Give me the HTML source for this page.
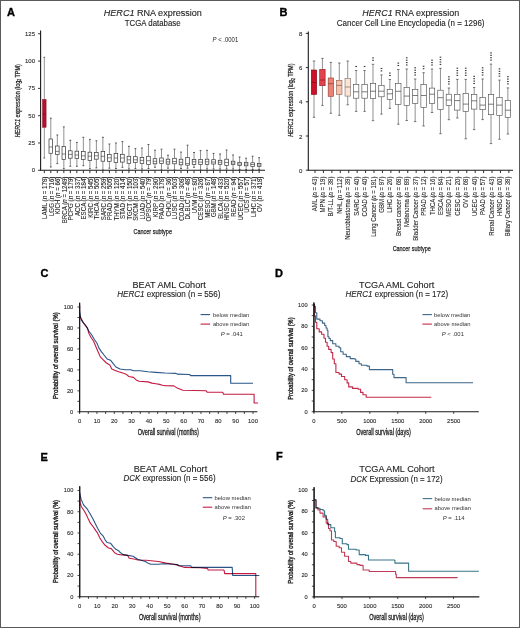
<!DOCTYPE html>
<html><head><meta charset="utf-8"><style>
html,body{margin:0;padding:0;background:#fff;}
svg{display:block;font-family:"Liberation Sans", sans-serif;will-change:transform;}
</style></head><body>
<svg width="520" height="628" viewBox="0 0 520 628">
<rect x="0" y="0" width="520" height="628" fill="#fff"/>
<text x="7.00" y="16.00" font-size="11" font-weight="bold" fill="#000" stroke="#000" stroke-width="0.35">A</text>
<text x="152.85" y="16.00" font-size="9.6" text-anchor="middle" textLength="98.10" lengthAdjust="spacingAndGlyphs" fill="#1e1e1e" stroke="#1e1e1e" stroke-width="0.12"><tspan font-style="italic">HERC1</tspan> RNA expression</text>
<text x="152.70" y="26.30" font-size="8.2" text-anchor="middle" textLength="55.80" lengthAdjust="spacingAndGlyphs" fill="#1e1e1e" stroke="#1e1e1e" stroke-width="0.12">TCGA database</text>
<text x="212.6" y="42.4" font-size="6.4" textLength="25.6" lengthAdjust="spacingAndGlyphs" fill="#222"><tspan font-style="italic">P</tspan> &lt; .0001</text>
<line x1="40.60" y1="30.50" x2="40.60" y2="170.80" stroke="#1a1a1a" stroke-width="1.1"/>
<line x1="38.10" y1="170.30" x2="40.60" y2="170.30" stroke="#1a1a1a" stroke-width="0.9"/>
<text x="35.00" y="172.35" font-size="5.4" text-anchor="end" textLength="3.34" lengthAdjust="spacingAndGlyphs" fill="#2a2a2a" stroke="#2a2a2a" stroke-width="0.1">0</text>
<line x1="38.10" y1="143.00" x2="40.60" y2="143.00" stroke="#1a1a1a" stroke-width="0.9"/>
<text x="35.00" y="145.05" font-size="5.4" text-anchor="end" textLength="6.67" lengthAdjust="spacingAndGlyphs" fill="#2a2a2a" stroke="#2a2a2a" stroke-width="0.1">25</text>
<line x1="38.10" y1="115.70" x2="40.60" y2="115.70" stroke="#1a1a1a" stroke-width="0.9"/>
<text x="35.00" y="117.75" font-size="5.4" text-anchor="end" textLength="6.67" lengthAdjust="spacingAndGlyphs" fill="#2a2a2a" stroke="#2a2a2a" stroke-width="0.1">50</text>
<line x1="38.10" y1="88.40" x2="40.60" y2="88.40" stroke="#1a1a1a" stroke-width="0.9"/>
<text x="35.00" y="90.45" font-size="5.4" text-anchor="end" textLength="6.67" lengthAdjust="spacingAndGlyphs" fill="#2a2a2a" stroke="#2a2a2a" stroke-width="0.1">75</text>
<line x1="38.10" y1="61.10" x2="40.60" y2="61.10" stroke="#1a1a1a" stroke-width="0.9"/>
<text x="35.00" y="63.15" font-size="5.4" text-anchor="end" textLength="10.01" lengthAdjust="spacingAndGlyphs" fill="#2a2a2a" stroke="#2a2a2a" stroke-width="0.1">100</text>
<line x1="38.10" y1="33.80" x2="40.60" y2="33.80" stroke="#1a1a1a" stroke-width="0.9"/>
<text x="35.00" y="35.85" font-size="5.4" text-anchor="end" textLength="10.01" lengthAdjust="spacingAndGlyphs" fill="#2a2a2a" stroke="#2a2a2a" stroke-width="0.1">125</text>
<line x1="40.60" y1="170.30" x2="265.00" y2="170.30" stroke="#1a1a1a" stroke-width="1.1"/>
<text x="0" y="0" font-size="8" text-anchor="middle" textLength="73" lengthAdjust="spacingAndGlyphs" transform="translate(19.8 100.8) rotate(-90)" fill="#222" stroke="#222" stroke-width="0.25"><tspan font-style="italic">HERC1</tspan> expression (log<tspan font-size="5" dy="1.5">2</tspan><tspan dy="-1.5"> TPM)</tspan></text>
<text x="152.70" y="233.50" font-size="8" text-anchor="middle" textLength="38.50" lengthAdjust="spacingAndGlyphs" fill="#222" stroke="#222" stroke-width="0.25">Cancer subtype</text>
<line x1="44.30" y1="170.30" x2="44.30" y2="173.10" stroke="#1a1a1a" stroke-width="0.9"/>
<line x1="44.30" y1="57.30" x2="44.30" y2="99.40" stroke="#777" stroke-width="0.8"/>
<line x1="44.30" y1="127.30" x2="44.30" y2="158.00" stroke="#777" stroke-width="0.8"/>
<line x1="43.40" y1="57.30" x2="45.20" y2="57.30" stroke="#444" stroke-width="0.8"/>
<line x1="43.40" y1="158.00" x2="45.20" y2="158.00" stroke="#444" stroke-width="0.8"/>
<rect x="42.50" y="99.4" width="3.6" height="27.90" fill="#b3122f" stroke="#8a0c22" stroke-width="0.5"/>
<line x1="42.50" y1="114.00" x2="46.10" y2="114.00" stroke="#7a0a1e" stroke-width="0.5"/>
<text x="0" y="0" font-size="6.3" text-anchor="end" transform="translate(47.20 176.60) rotate(-90) scale(0.976 1)" fill="#1e1e1e" stroke="#1e1e1e" stroke-width="0.08">LAML (<tspan font-style="italic">n</tspan> = 178)</text>
<line x1="50.81" y1="170.30" x2="50.81" y2="173.10" stroke="#1a1a1a" stroke-width="0.9"/>
<line x1="50.81" y1="118.20" x2="50.81" y2="139.00" stroke="#8a8a8a" stroke-width="0.95"/>
<line x1="50.81" y1="153.30" x2="50.81" y2="167.00" stroke="#8a8a8a" stroke-width="0.95"/>
<line x1="49.91" y1="118.20" x2="51.71" y2="118.20" stroke="#444" stroke-width="0.9"/>
<line x1="49.91" y1="167.00" x2="51.71" y2="167.00" stroke="#444" stroke-width="0.9"/>
<rect x="49.01" y="139" width="3.6" height="14.30" fill="#fff" stroke="#333" stroke-width="0.7"/>
<line x1="49.01" y1="147.00" x2="52.61" y2="147.00" stroke="#333" stroke-width="0.6"/>
<text x="0" y="0" font-size="6.3" text-anchor="end" transform="translate(53.71 176.60) rotate(-90) scale(0.976 1)" fill="#1e1e1e" stroke="#1e1e1e" stroke-width="0.08">LGG (<tspan font-style="italic">n</tspan> = 716)</text>
<line x1="57.32" y1="170.30" x2="57.32" y2="173.10" stroke="#1a1a1a" stroke-width="0.9"/>
<line x1="57.32" y1="135.00" x2="57.32" y2="146.00" stroke="#8a8a8a" stroke-width="0.95"/>
<line x1="57.32" y1="154.60" x2="57.32" y2="163.60" stroke="#8a8a8a" stroke-width="0.95"/>
<line x1="56.42" y1="135.00" x2="58.22" y2="135.00" stroke="#444" stroke-width="0.9"/>
<line x1="56.42" y1="163.60" x2="58.22" y2="163.60" stroke="#444" stroke-width="0.9"/>
<rect x="55.52" y="146" width="3.6" height="8.60" fill="#fff" stroke="#333" stroke-width="0.7"/>
<line x1="55.52" y1="151.40" x2="59.12" y2="151.40" stroke="#333" stroke-width="0.6"/>
<text x="0" y="0" font-size="6.3" text-anchor="end" transform="translate(60.22 176.60) rotate(-90) scale(0.976 1)" fill="#1e1e1e" stroke="#1e1e1e" stroke-width="0.08">KICH (<tspan font-style="italic">n</tspan> = 66)</text>
<line x1="63.83" y1="170.30" x2="63.83" y2="173.10" stroke="#1a1a1a" stroke-width="0.9"/>
<line x1="63.83" y1="126.90" x2="63.83" y2="146.60" stroke="#8a8a8a" stroke-width="0.95"/>
<line x1="63.83" y1="159.40" x2="63.83" y2="168.70" stroke="#8a8a8a" stroke-width="0.95"/>
<line x1="62.93" y1="126.90" x2="64.73" y2="126.90" stroke="#444" stroke-width="0.9"/>
<line x1="62.93" y1="168.70" x2="64.73" y2="168.70" stroke="#444" stroke-width="0.9"/>
<rect x="62.03" y="146.6" width="3.6" height="12.80" fill="#fff" stroke="#333" stroke-width="0.7"/>
<line x1="62.03" y1="154.00" x2="65.63" y2="154.00" stroke="#333" stroke-width="0.6"/>
<text x="0" y="0" font-size="6.3" text-anchor="end" transform="translate(66.73 176.60) rotate(-90) scale(0.976 1)" fill="#1e1e1e" stroke="#1e1e1e" stroke-width="0.08">BRCA (<tspan font-style="italic">n</tspan> = 1249)</text>
<line x1="70.34" y1="170.30" x2="70.34" y2="173.10" stroke="#1a1a1a" stroke-width="0.9"/>
<line x1="70.34" y1="140.30" x2="70.34" y2="150.80" stroke="#8a8a8a" stroke-width="0.95"/>
<line x1="70.34" y1="158.20" x2="70.34" y2="166.30" stroke="#8a8a8a" stroke-width="0.95"/>
<line x1="69.44" y1="140.30" x2="71.24" y2="140.30" stroke="#444" stroke-width="0.9"/>
<line x1="69.44" y1="166.30" x2="71.24" y2="166.30" stroke="#444" stroke-width="0.9"/>
<rect x="68.54" y="150.8" width="3.6" height="7.40" fill="#fff" stroke="#333" stroke-width="0.7"/>
<line x1="68.54" y1="154.40" x2="72.14" y2="154.40" stroke="#333" stroke-width="0.6"/>
<text x="0" y="0" font-size="6.3" text-anchor="end" transform="translate(73.24 176.60) rotate(-90) scale(0.976 1)" fill="#1e1e1e" stroke="#1e1e1e" stroke-width="0.08">PCPG (<tspan font-style="italic">n</tspan> = 179)</text>
<line x1="76.85" y1="170.30" x2="76.85" y2="173.10" stroke="#1a1a1a" stroke-width="0.9"/>
<line x1="76.85" y1="142.40" x2="76.85" y2="151.20" stroke="#8a8a8a" stroke-width="0.95"/>
<line x1="76.85" y1="158.60" x2="76.85" y2="166.30" stroke="#8a8a8a" stroke-width="0.95"/>
<line x1="75.95" y1="142.40" x2="77.75" y2="142.40" stroke="#444" stroke-width="0.9"/>
<line x1="75.95" y1="166.30" x2="77.75" y2="166.30" stroke="#444" stroke-width="0.9"/>
<rect x="75.05" y="151.2" width="3.6" height="7.40" fill="#fff" stroke="#333" stroke-width="0.7"/>
<line x1="75.05" y1="155.00" x2="78.65" y2="155.00" stroke="#333" stroke-width="0.6"/>
<text x="0" y="0" font-size="6.3" text-anchor="end" transform="translate(79.75 176.60) rotate(-90) scale(0.976 1)" fill="#1e1e1e" stroke="#1e1e1e" stroke-width="0.08">ACC (<tspan font-style="italic">n</tspan> = 337)</text>
<line x1="83.36" y1="170.30" x2="83.36" y2="173.10" stroke="#1a1a1a" stroke-width="0.9"/>
<line x1="83.36" y1="137.30" x2="83.36" y2="151.40" stroke="#8a8a8a" stroke-width="0.95"/>
<line x1="83.36" y1="159.40" x2="83.36" y2="165.70" stroke="#8a8a8a" stroke-width="0.95"/>
<line x1="82.46" y1="137.30" x2="84.26" y2="137.30" stroke="#444" stroke-width="0.9"/>
<line x1="82.46" y1="165.70" x2="84.26" y2="165.70" stroke="#444" stroke-width="0.9"/>
<rect x="81.56" y="151.4" width="3.6" height="8.00" fill="#fff" stroke="#333" stroke-width="0.7"/>
<line x1="81.56" y1="155.80" x2="85.16" y2="155.80" stroke="#333" stroke-width="0.6"/>
<text x="0" y="0" font-size="6.3" text-anchor="end" transform="translate(86.26 176.60) rotate(-90) scale(0.976 1)" fill="#1e1e1e" stroke="#1e1e1e" stroke-width="0.08">ESCA (<tspan font-style="italic">n</tspan> = 184)</text>
<line x1="89.87" y1="170.30" x2="89.87" y2="173.10" stroke="#1a1a1a" stroke-width="0.9"/>
<line x1="89.87" y1="139.40" x2="89.87" y2="152.20" stroke="#8a8a8a" stroke-width="0.95"/>
<line x1="89.87" y1="160.40" x2="89.87" y2="168.70" stroke="#8a8a8a" stroke-width="0.95"/>
<line x1="88.97" y1="139.40" x2="90.77" y2="139.40" stroke="#444" stroke-width="0.9"/>
<line x1="88.97" y1="168.70" x2="90.77" y2="168.70" stroke="#444" stroke-width="0.9"/>
<rect x="88.07" y="152.2" width="3.6" height="8.20" fill="#fff" stroke="#333" stroke-width="0.7"/>
<line x1="88.07" y1="156.20" x2="91.67" y2="156.20" stroke="#333" stroke-width="0.6"/>
<text x="0" y="0" font-size="6.3" text-anchor="end" transform="translate(92.77 176.60) rotate(-90) scale(0.976 1)" fill="#1e1e1e" stroke="#1e1e1e" stroke-width="0.08">KIRC (<tspan font-style="italic">n</tspan> = 545)</text>
<line x1="96.38" y1="170.30" x2="96.38" y2="173.10" stroke="#1a1a1a" stroke-width="0.9"/>
<line x1="96.38" y1="140.80" x2="96.38" y2="152.50" stroke="#8a8a8a" stroke-width="0.95"/>
<line x1="96.38" y1="159.20" x2="96.38" y2="167.90" stroke="#8a8a8a" stroke-width="0.95"/>
<line x1="95.48" y1="140.80" x2="97.28" y2="140.80" stroke="#444" stroke-width="0.9"/>
<line x1="95.48" y1="167.90" x2="97.28" y2="167.90" stroke="#444" stroke-width="0.9"/>
<rect x="94.58" y="152.5" width="3.6" height="6.70" fill="#fff" stroke="#333" stroke-width="0.7"/>
<line x1="94.58" y1="155.80" x2="98.18" y2="155.80" stroke="#333" stroke-width="0.6"/>
<text x="0" y="0" font-size="6.3" text-anchor="end" transform="translate(99.28 176.60) rotate(-90) scale(0.976 1)" fill="#1e1e1e" stroke="#1e1e1e" stroke-width="0.08">THCA (<tspan font-style="italic">n</tspan> = 505)</text>
<line x1="102.89" y1="170.30" x2="102.89" y2="173.10" stroke="#1a1a1a" stroke-width="0.9"/>
<line x1="102.89" y1="137.30" x2="102.89" y2="151.40" stroke="#8a8a8a" stroke-width="0.95"/>
<line x1="102.89" y1="161.20" x2="102.89" y2="170.00" stroke="#8a8a8a" stroke-width="0.95"/>
<line x1="101.99" y1="137.30" x2="103.79" y2="137.30" stroke="#444" stroke-width="0.9"/>
<line x1="101.99" y1="170.00" x2="103.79" y2="170.00" stroke="#444" stroke-width="0.9"/>
<rect x="101.09" y="151.4" width="3.6" height="9.80" fill="#fff" stroke="#333" stroke-width="0.7"/>
<line x1="101.09" y1="156.30" x2="104.69" y2="156.30" stroke="#333" stroke-width="0.6"/>
<text x="0" y="0" font-size="6.3" text-anchor="end" transform="translate(105.79 176.60) rotate(-90) scale(0.976 1)" fill="#1e1e1e" stroke="#1e1e1e" stroke-width="0.08">SARC (<tspan font-style="italic">n</tspan> = 259)</text>
<line x1="109.40" y1="170.30" x2="109.40" y2="173.10" stroke="#1a1a1a" stroke-width="0.9"/>
<line x1="109.40" y1="144.00" x2="109.40" y2="154.40" stroke="#8a8a8a" stroke-width="0.95"/>
<line x1="109.40" y1="161.30" x2="109.40" y2="168.20" stroke="#8a8a8a" stroke-width="0.95"/>
<line x1="108.50" y1="144.00" x2="110.30" y2="144.00" stroke="#444" stroke-width="0.9"/>
<line x1="108.50" y1="168.20" x2="110.30" y2="168.20" stroke="#444" stroke-width="0.9"/>
<rect x="107.60" y="154.4" width="3.6" height="6.90" fill="#fff" stroke="#333" stroke-width="0.7"/>
<line x1="107.60" y1="157.80" x2="111.20" y2="157.80" stroke="#333" stroke-width="0.6"/>
<text x="0" y="0" font-size="6.3" text-anchor="end" transform="translate(112.30 176.60) rotate(-90) scale(0.976 1)" fill="#1e1e1e" stroke="#1e1e1e" stroke-width="0.08">PRAD (<tspan font-style="italic">n</tspan> = 505)</text>
<line x1="115.91" y1="170.30" x2="115.91" y2="173.10" stroke="#1a1a1a" stroke-width="0.9"/>
<line x1="115.91" y1="143.00" x2="115.91" y2="153.50" stroke="#8a8a8a" stroke-width="0.95"/>
<line x1="115.91" y1="162.50" x2="115.91" y2="168.50" stroke="#8a8a8a" stroke-width="0.95"/>
<line x1="115.01" y1="143.00" x2="116.81" y2="143.00" stroke="#444" stroke-width="0.9"/>
<line x1="115.01" y1="168.50" x2="116.81" y2="168.50" stroke="#444" stroke-width="0.9"/>
<rect x="114.11" y="153.5" width="3.6" height="9.00" fill="#fff" stroke="#333" stroke-width="0.7"/>
<line x1="114.11" y1="158.00" x2="117.71" y2="158.00" stroke="#333" stroke-width="0.6"/>
<text x="0" y="0" font-size="6.3" text-anchor="end" transform="translate(118.81 176.60) rotate(-90) scale(0.976 1)" fill="#1e1e1e" stroke="#1e1e1e" stroke-width="0.08">THYM (<tspan font-style="italic">n</tspan> = 120)</text>
<line x1="122.42" y1="170.30" x2="122.42" y2="173.10" stroke="#1a1a1a" stroke-width="0.9"/>
<line x1="122.42" y1="141.60" x2="122.42" y2="154.30" stroke="#8a8a8a" stroke-width="0.95"/>
<line x1="122.42" y1="162.10" x2="122.42" y2="167.30" stroke="#8a8a8a" stroke-width="0.95"/>
<line x1="121.52" y1="141.60" x2="123.32" y2="141.60" stroke="#444" stroke-width="0.9"/>
<line x1="121.52" y1="167.30" x2="123.32" y2="167.30" stroke="#444" stroke-width="0.9"/>
<rect x="120.62" y="154.3" width="3.6" height="7.80" fill="#fff" stroke="#333" stroke-width="0.7"/>
<line x1="120.62" y1="158.00" x2="124.22" y2="158.00" stroke="#333" stroke-width="0.6"/>
<text x="0" y="0" font-size="6.3" text-anchor="end" transform="translate(125.32 176.60) rotate(-90) scale(0.976 1)" fill="#1e1e1e" stroke="#1e1e1e" stroke-width="0.08">STAD (<tspan font-style="italic">n</tspan> = 414)</text>
<line x1="128.93" y1="170.30" x2="128.93" y2="173.10" stroke="#1a1a1a" stroke-width="0.9"/>
<line x1="128.93" y1="146.30" x2="128.93" y2="156.30" stroke="#8a8a8a" stroke-width="0.95"/>
<line x1="128.93" y1="163.30" x2="128.93" y2="169.00" stroke="#8a8a8a" stroke-width="0.95"/>
<line x1="128.03" y1="146.30" x2="129.83" y2="146.30" stroke="#444" stroke-width="0.9"/>
<line x1="128.03" y1="169.00" x2="129.83" y2="169.00" stroke="#444" stroke-width="0.9"/>
<rect x="127.13" y="156.3" width="3.6" height="7.00" fill="#fff" stroke="#333" stroke-width="0.7"/>
<line x1="127.13" y1="159.80" x2="130.73" y2="159.80" stroke="#333" stroke-width="0.6"/>
<text x="0" y="0" font-size="6.3" text-anchor="end" transform="translate(131.83 176.60) rotate(-90) scale(0.976 1)" fill="#1e1e1e" stroke="#1e1e1e" stroke-width="0.08">TGCT (<tspan font-style="italic">n</tspan> = 150)</text>
<line x1="135.44" y1="170.30" x2="135.44" y2="173.10" stroke="#1a1a1a" stroke-width="0.9"/>
<line x1="135.44" y1="148.60" x2="135.44" y2="156.70" stroke="#8a8a8a" stroke-width="0.95"/>
<line x1="135.44" y1="162.50" x2="135.44" y2="168.50" stroke="#8a8a8a" stroke-width="0.95"/>
<line x1="134.54" y1="148.60" x2="136.34" y2="148.60" stroke="#444" stroke-width="0.9"/>
<line x1="134.54" y1="168.50" x2="136.34" y2="168.50" stroke="#444" stroke-width="0.9"/>
<rect x="133.64" y="156.7" width="3.6" height="5.80" fill="#fff" stroke="#333" stroke-width="0.7"/>
<line x1="133.64" y1="159.80" x2="137.24" y2="159.80" stroke="#333" stroke-width="0.6"/>
<text x="0" y="0" font-size="6.3" text-anchor="end" transform="translate(138.34 176.60) rotate(-90) scale(0.976 1)" fill="#1e1e1e" stroke="#1e1e1e" stroke-width="0.08">SKCM (<tspan font-style="italic">n</tspan> = 103)</text>
<line x1="141.95" y1="170.30" x2="141.95" y2="173.10" stroke="#1a1a1a" stroke-width="0.9"/>
<line x1="141.95" y1="148.00" x2="141.95" y2="157.50" stroke="#8a8a8a" stroke-width="0.95"/>
<line x1="141.95" y1="163.60" x2="141.95" y2="169.00" stroke="#8a8a8a" stroke-width="0.95"/>
<line x1="141.05" y1="148.00" x2="142.85" y2="148.00" stroke="#444" stroke-width="0.9"/>
<line x1="141.05" y1="169.00" x2="142.85" y2="169.00" stroke="#444" stroke-width="0.9"/>
<rect x="140.15" y="157.5" width="3.6" height="6.10" fill="#fff" stroke="#333" stroke-width="0.7"/>
<line x1="140.15" y1="160.40" x2="143.75" y2="160.40" stroke="#333" stroke-width="0.6"/>
<text x="0" y="0" font-size="6.3" text-anchor="end" transform="translate(144.85 176.60) rotate(-90) scale(0.976 1)" fill="#1e1e1e" stroke="#1e1e1e" stroke-width="0.08">LUAD (<tspan font-style="italic">n</tspan> = 540)</text>
<line x1="148.46" y1="170.30" x2="148.46" y2="173.10" stroke="#1a1a1a" stroke-width="0.9"/>
<line x1="148.46" y1="144.50" x2="148.46" y2="156.30" stroke="#8a8a8a" stroke-width="0.95"/>
<line x1="148.46" y1="164.40" x2="148.46" y2="168.50" stroke="#8a8a8a" stroke-width="0.95"/>
<line x1="147.56" y1="144.50" x2="149.36" y2="144.50" stroke="#444" stroke-width="0.9"/>
<line x1="147.56" y1="168.50" x2="149.36" y2="168.50" stroke="#444" stroke-width="0.9"/>
<rect x="146.66" y="156.3" width="3.6" height="8.10" fill="#fff" stroke="#333" stroke-width="0.7"/>
<line x1="146.66" y1="160.70" x2="150.26" y2="160.70" stroke="#333" stroke-width="0.6"/>
<text x="0" y="0" font-size="6.3" text-anchor="end" transform="translate(151.36 176.60) rotate(-90) scale(0.976 1)" fill="#1e1e1e" stroke="#1e1e1e" stroke-width="0.08">OPSCC (<tspan font-style="italic">n</tspan> = 79)</text>
<line x1="154.97" y1="170.30" x2="154.97" y2="173.10" stroke="#1a1a1a" stroke-width="0.9"/>
<line x1="154.97" y1="150.20" x2="154.97" y2="158.70" stroke="#8a8a8a" stroke-width="0.95"/>
<line x1="154.97" y1="163.80" x2="154.97" y2="167.30" stroke="#8a8a8a" stroke-width="0.95"/>
<line x1="154.07" y1="150.20" x2="155.87" y2="150.20" stroke="#444" stroke-width="0.9"/>
<line x1="154.07" y1="167.30" x2="155.87" y2="167.30" stroke="#444" stroke-width="0.9"/>
<rect x="153.17" y="158.7" width="3.6" height="5.10" fill="#fff" stroke="#333" stroke-width="0.7"/>
<line x1="153.17" y1="161.30" x2="156.77" y2="161.30" stroke="#333" stroke-width="0.6"/>
<text x="0" y="0" font-size="6.3" text-anchor="end" transform="translate(157.87 176.60) rotate(-90) scale(0.976 1)" fill="#1e1e1e" stroke="#1e1e1e" stroke-width="0.08">KIRP (<tspan font-style="italic">n</tspan> = 290)</text>
<line x1="161.48" y1="170.30" x2="161.48" y2="173.10" stroke="#1a1a1a" stroke-width="0.9"/>
<line x1="161.48" y1="149.20" x2="161.48" y2="158.00" stroke="#8a8a8a" stroke-width="0.95"/>
<line x1="161.48" y1="163.60" x2="161.48" y2="170.00" stroke="#8a8a8a" stroke-width="0.95"/>
<line x1="160.58" y1="149.20" x2="162.38" y2="149.20" stroke="#444" stroke-width="0.9"/>
<line x1="160.58" y1="170.00" x2="162.38" y2="170.00" stroke="#444" stroke-width="0.9"/>
<rect x="159.68" y="158" width="3.6" height="5.60" fill="#fff" stroke="#333" stroke-width="0.7"/>
<line x1="159.68" y1="161.00" x2="163.28" y2="161.00" stroke="#333" stroke-width="0.6"/>
<text x="0" y="0" font-size="6.3" text-anchor="end" transform="translate(164.38 176.60) rotate(-90) scale(0.976 1)" fill="#1e1e1e" stroke="#1e1e1e" stroke-width="0.08">PAAD (<tspan font-style="italic">n</tspan> = 178)</text>
<line x1="167.99" y1="170.30" x2="167.99" y2="173.10" stroke="#1a1a1a" stroke-width="0.9"/>
<line x1="167.99" y1="155.20" x2="167.99" y2="159.20" stroke="#8a8a8a" stroke-width="0.95"/>
<line x1="167.99" y1="164.10" x2="167.99" y2="168.20" stroke="#8a8a8a" stroke-width="0.95"/>
<line x1="167.09" y1="155.20" x2="168.89" y2="155.20" stroke="#444" stroke-width="0.9"/>
<line x1="167.09" y1="168.20" x2="168.89" y2="168.20" stroke="#444" stroke-width="0.9"/>
<rect x="166.19" y="159.2" width="3.6" height="4.90" fill="#fff" stroke="#333" stroke-width="0.7"/>
<line x1="166.19" y1="161.80" x2="169.79" y2="161.80" stroke="#333" stroke-width="0.6"/>
<text x="0" y="0" font-size="6.3" text-anchor="end" transform="translate(170.89 176.60) rotate(-90) scale(0.976 1)" fill="#1e1e1e" stroke="#1e1e1e" stroke-width="0.08">CHOL (<tspan font-style="italic">n</tspan> = 36)</text>
<line x1="174.50" y1="170.30" x2="174.50" y2="173.10" stroke="#1a1a1a" stroke-width="0.9"/>
<line x1="174.50" y1="149.20" x2="174.50" y2="158.30" stroke="#8a8a8a" stroke-width="0.95"/>
<line x1="174.50" y1="163.80" x2="174.50" y2="170.00" stroke="#8a8a8a" stroke-width="0.95"/>
<line x1="173.60" y1="149.20" x2="175.40" y2="149.20" stroke="#444" stroke-width="0.9"/>
<line x1="173.60" y1="170.00" x2="175.40" y2="170.00" stroke="#444" stroke-width="0.9"/>
<rect x="172.70" y="158.3" width="3.6" height="5.50" fill="#fff" stroke="#333" stroke-width="0.7"/>
<line x1="172.70" y1="161.50" x2="176.30" y2="161.50" stroke="#333" stroke-width="0.6"/>
<text x="0" y="0" font-size="6.3" text-anchor="end" transform="translate(177.40 176.60) rotate(-90) scale(0.976 1)" fill="#1e1e1e" stroke="#1e1e1e" stroke-width="0.08">LUSC (<tspan font-style="italic">n</tspan> = 503)</text>
<line x1="181.01" y1="170.30" x2="181.01" y2="173.10" stroke="#1a1a1a" stroke-width="0.9"/>
<line x1="181.01" y1="152.10" x2="181.01" y2="159.20" stroke="#8a8a8a" stroke-width="0.95"/>
<line x1="181.01" y1="164.80" x2="181.01" y2="168.50" stroke="#8a8a8a" stroke-width="0.95"/>
<line x1="180.11" y1="152.10" x2="181.91" y2="152.10" stroke="#444" stroke-width="0.9"/>
<line x1="180.11" y1="168.50" x2="181.91" y2="168.50" stroke="#444" stroke-width="0.9"/>
<rect x="179.21" y="159.2" width="3.6" height="5.60" fill="#fff" stroke="#333" stroke-width="0.7"/>
<line x1="179.21" y1="162.30" x2="182.81" y2="162.30" stroke="#333" stroke-width="0.6"/>
<text x="0" y="0" font-size="6.3" text-anchor="end" transform="translate(183.91 176.60) rotate(-90) scale(0.976 1)" fill="#1e1e1e" stroke="#1e1e1e" stroke-width="0.08">COAD (<tspan font-style="italic">n</tspan> = 308)</text>
<line x1="187.52" y1="170.30" x2="187.52" y2="173.10" stroke="#1a1a1a" stroke-width="0.9"/>
<line x1="187.52" y1="145.20" x2="187.52" y2="157.50" stroke="#8a8a8a" stroke-width="0.95"/>
<line x1="187.52" y1="165.20" x2="187.52" y2="168.20" stroke="#8a8a8a" stroke-width="0.95"/>
<line x1="186.62" y1="145.20" x2="188.42" y2="145.20" stroke="#444" stroke-width="0.9"/>
<line x1="186.62" y1="168.20" x2="188.42" y2="168.20" stroke="#444" stroke-width="0.9"/>
<rect x="185.72" y="157.5" width="3.6" height="7.70" fill="#fff" stroke="#333" stroke-width="0.7"/>
<line x1="185.72" y1="163.60" x2="189.32" y2="163.60" stroke="#333" stroke-width="0.6"/>
<text x="0" y="0" font-size="6.3" text-anchor="end" transform="translate(190.42 176.60) rotate(-90) scale(0.976 1)" fill="#1e1e1e" stroke="#1e1e1e" stroke-width="0.08">DLBLC (<tspan font-style="italic">n</tspan> = 48)</text>
<line x1="194.03" y1="170.30" x2="194.03" y2="173.10" stroke="#1a1a1a" stroke-width="0.9"/>
<line x1="194.03" y1="152.50" x2="194.03" y2="159.50" stroke="#8a8a8a" stroke-width="0.95"/>
<line x1="194.03" y1="164.40" x2="194.03" y2="167.30" stroke="#8a8a8a" stroke-width="0.95"/>
<line x1="193.13" y1="152.50" x2="194.93" y2="152.50" stroke="#444" stroke-width="0.9"/>
<line x1="193.13" y1="167.30" x2="194.93" y2="167.30" stroke="#444" stroke-width="0.9"/>
<rect x="192.23" y="159.5" width="3.6" height="4.90" fill="#fff" stroke="#333" stroke-width="0.7"/>
<line x1="192.23" y1="161.80" x2="195.83" y2="161.80" stroke="#333" stroke-width="0.6"/>
<text x="0" y="0" font-size="6.3" text-anchor="end" transform="translate(196.93 176.60) rotate(-90) scale(0.976 1)" fill="#1e1e1e" stroke="#1e1e1e" stroke-width="0.08">UVM (<tspan font-style="italic">n</tspan> = 80)</text>
<line x1="200.54" y1="170.30" x2="200.54" y2="173.10" stroke="#1a1a1a" stroke-width="0.9"/>
<line x1="200.54" y1="150.60" x2="200.54" y2="159.50" stroke="#8a8a8a" stroke-width="0.95"/>
<line x1="200.54" y1="164.40" x2="200.54" y2="170.00" stroke="#8a8a8a" stroke-width="0.95"/>
<line x1="199.64" y1="150.60" x2="201.44" y2="150.60" stroke="#444" stroke-width="0.9"/>
<line x1="199.64" y1="170.00" x2="201.44" y2="170.00" stroke="#444" stroke-width="0.9"/>
<rect x="198.74" y="159.5" width="3.6" height="4.90" fill="#fff" stroke="#333" stroke-width="0.7"/>
<line x1="198.74" y1="162.10" x2="202.34" y2="162.10" stroke="#333" stroke-width="0.6"/>
<text x="0" y="0" font-size="6.3" text-anchor="end" transform="translate(203.44 176.60) rotate(-90) scale(0.976 1)" fill="#1e1e1e" stroke="#1e1e1e" stroke-width="0.08">CESC (<tspan font-style="italic">n</tspan> = 326)</text>
<line x1="207.05" y1="170.30" x2="207.05" y2="173.10" stroke="#1a1a1a" stroke-width="0.9"/>
<line x1="207.05" y1="150.30" x2="207.05" y2="159.20" stroke="#8a8a8a" stroke-width="0.95"/>
<line x1="207.05" y1="164.30" x2="207.05" y2="169.00" stroke="#8a8a8a" stroke-width="0.95"/>
<line x1="206.15" y1="150.30" x2="207.95" y2="150.30" stroke="#444" stroke-width="0.9"/>
<line x1="206.15" y1="169.00" x2="207.95" y2="169.00" stroke="#444" stroke-width="0.9"/>
<rect x="205.25" y="159.2" width="3.6" height="5.10" fill="#fff" stroke="#333" stroke-width="0.7"/>
<line x1="205.25" y1="161.80" x2="208.85" y2="161.80" stroke="#333" stroke-width="0.6"/>
<text x="0" y="0" font-size="6.3" text-anchor="end" transform="translate(209.95 176.60) rotate(-90) scale(0.976 1)" fill="#1e1e1e" stroke="#1e1e1e" stroke-width="0.08">MESO (<tspan font-style="italic">n</tspan> = 87)</text>
<line x1="213.56" y1="170.30" x2="213.56" y2="173.10" stroke="#1a1a1a" stroke-width="0.9"/>
<line x1="213.56" y1="153.40" x2="213.56" y2="159.70" stroke="#8a8a8a" stroke-width="0.95"/>
<line x1="213.56" y1="164.00" x2="213.56" y2="169.00" stroke="#8a8a8a" stroke-width="0.95"/>
<line x1="212.66" y1="153.40" x2="214.46" y2="153.40" stroke="#444" stroke-width="0.9"/>
<line x1="212.66" y1="169.00" x2="214.46" y2="169.00" stroke="#444" stroke-width="0.9"/>
<rect x="211.76" y="159.7" width="3.6" height="4.30" fill="#fff" stroke="#333" stroke-width="0.7"/>
<line x1="211.76" y1="162.00" x2="215.36" y2="162.00" stroke="#333" stroke-width="0.6"/>
<text x="0" y="0" font-size="6.3" text-anchor="end" transform="translate(216.46 176.60) rotate(-90) scale(0.976 1)" fill="#1e1e1e" stroke="#1e1e1e" stroke-width="0.08">GBM (<tspan font-style="italic">n</tspan> = 148)</text>
<line x1="220.07" y1="170.30" x2="220.07" y2="173.10" stroke="#1a1a1a" stroke-width="0.9"/>
<line x1="220.07" y1="154.00" x2="220.07" y2="160.30" stroke="#8a8a8a" stroke-width="0.95"/>
<line x1="220.07" y1="164.30" x2="220.07" y2="169.00" stroke="#8a8a8a" stroke-width="0.95"/>
<line x1="219.17" y1="154.00" x2="220.97" y2="154.00" stroke="#444" stroke-width="0.9"/>
<line x1="219.17" y1="169.00" x2="220.97" y2="169.00" stroke="#444" stroke-width="0.9"/>
<rect x="218.27" y="160.3" width="3.6" height="4.00" fill="#fff" stroke="#333" stroke-width="0.7"/>
<line x1="218.27" y1="162.30" x2="221.87" y2="162.30" stroke="#333" stroke-width="0.6"/>
<text x="0" y="0" font-size="6.3" text-anchor="end" transform="translate(222.97 176.60) rotate(-90) scale(0.976 1)" fill="#1e1e1e" stroke="#1e1e1e" stroke-width="0.08">BLCA (<tspan font-style="italic">n</tspan> = 433)</text>
<line x1="226.58" y1="170.30" x2="226.58" y2="173.10" stroke="#1a1a1a" stroke-width="0.9"/>
<line x1="226.58" y1="150.00" x2="226.58" y2="159.20" stroke="#8a8a8a" stroke-width="0.95"/>
<line x1="226.58" y1="165.40" x2="226.58" y2="169.00" stroke="#8a8a8a" stroke-width="0.95"/>
<line x1="225.68" y1="150.00" x2="227.48" y2="150.00" stroke="#444" stroke-width="0.9"/>
<line x1="225.68" y1="169.00" x2="227.48" y2="169.00" stroke="#444" stroke-width="0.9"/>
<rect x="224.78" y="159.2" width="3.6" height="6.20" fill="#fff" stroke="#333" stroke-width="0.7"/>
<line x1="224.78" y1="162.50" x2="228.38" y2="162.50" stroke="#333" stroke-width="0.6"/>
<text x="0" y="0" font-size="6.3" text-anchor="end" transform="translate(229.48 176.60) rotate(-90) scale(0.976 1)" fill="#1e1e1e" stroke="#1e1e1e" stroke-width="0.08">HNSC (<tspan font-style="italic">n</tspan> = 520)</text>
<line x1="233.09" y1="170.30" x2="233.09" y2="173.10" stroke="#1a1a1a" stroke-width="0.9"/>
<line x1="233.09" y1="155.00" x2="233.09" y2="161.20" stroke="#8a8a8a" stroke-width="0.95"/>
<line x1="233.09" y1="164.60" x2="233.09" y2="169.00" stroke="#8a8a8a" stroke-width="0.95"/>
<line x1="232.19" y1="155.00" x2="233.99" y2="155.00" stroke="#444" stroke-width="0.9"/>
<line x1="232.19" y1="169.00" x2="233.99" y2="169.00" stroke="#444" stroke-width="0.9"/>
<rect x="231.29" y="161.2" width="3.6" height="3.40" fill="#fff" stroke="#333" stroke-width="0.7"/>
<line x1="231.29" y1="163.00" x2="234.89" y2="163.00" stroke="#333" stroke-width="0.6"/>
<text x="0" y="0" font-size="6.3" text-anchor="end" transform="translate(235.99 176.60) rotate(-90) scale(0.976 1)" fill="#1e1e1e" stroke="#1e1e1e" stroke-width="0.08">READ (<tspan font-style="italic">n</tspan> = 94)</text>
<line x1="239.60" y1="170.30" x2="239.60" y2="173.10" stroke="#1a1a1a" stroke-width="0.9"/>
<line x1="239.60" y1="157.00" x2="239.60" y2="162.30" stroke="#8a8a8a" stroke-width="0.95"/>
<line x1="239.60" y1="165.40" x2="239.60" y2="169.50" stroke="#8a8a8a" stroke-width="0.95"/>
<line x1="238.70" y1="157.00" x2="240.50" y2="157.00" stroke="#444" stroke-width="0.9"/>
<line x1="238.70" y1="169.50" x2="240.50" y2="169.50" stroke="#444" stroke-width="0.9"/>
<rect x="237.80" y="162.3" width="3.6" height="3.10" fill="#fff" stroke="#333" stroke-width="0.7"/>
<line x1="237.80" y1="164.00" x2="241.40" y2="164.00" stroke="#333" stroke-width="0.6"/>
<text x="0" y="0" font-size="6.3" text-anchor="end" transform="translate(242.50 176.60) rotate(-90) scale(0.976 1)" fill="#1e1e1e" stroke="#1e1e1e" stroke-width="0.08">UCEC (<tspan font-style="italic">n</tspan> = 557)</text>
<line x1="246.11" y1="170.30" x2="246.11" y2="173.10" stroke="#1a1a1a" stroke-width="0.9"/>
<line x1="246.11" y1="158.20" x2="246.11" y2="162.30" stroke="#8a8a8a" stroke-width="0.95"/>
<line x1="246.11" y1="165.80" x2="246.11" y2="169.50" stroke="#8a8a8a" stroke-width="0.95"/>
<line x1="245.21" y1="158.20" x2="247.01" y2="158.20" stroke="#444" stroke-width="0.9"/>
<line x1="245.21" y1="169.50" x2="247.01" y2="169.50" stroke="#444" stroke-width="0.9"/>
<rect x="244.31" y="162.3" width="3.6" height="3.50" fill="#fff" stroke="#333" stroke-width="0.7"/>
<line x1="244.31" y1="164.00" x2="247.91" y2="164.00" stroke="#333" stroke-width="0.6"/>
<text x="0" y="0" font-size="6.3" text-anchor="end" transform="translate(249.01 176.60) rotate(-90) scale(0.976 1)" fill="#1e1e1e" stroke="#1e1e1e" stroke-width="0.08">UCS (<tspan font-style="italic">n</tspan> = 57)</text>
<line x1="252.62" y1="170.30" x2="252.62" y2="173.10" stroke="#1a1a1a" stroke-width="0.9"/>
<line x1="252.62" y1="156.20" x2="252.62" y2="162.80" stroke="#8a8a8a" stroke-width="0.95"/>
<line x1="252.62" y1="166.50" x2="252.62" y2="169.50" stroke="#8a8a8a" stroke-width="0.95"/>
<line x1="251.72" y1="156.20" x2="253.52" y2="156.20" stroke="#444" stroke-width="0.9"/>
<line x1="251.72" y1="169.50" x2="253.52" y2="169.50" stroke="#444" stroke-width="0.9"/>
<rect x="250.82" y="162.8" width="3.6" height="3.70" fill="#fff" stroke="#333" stroke-width="0.7"/>
<line x1="250.82" y1="164.50" x2="254.42" y2="164.50" stroke="#333" stroke-width="0.6"/>
<text x="0" y="0" font-size="6.3" text-anchor="end" transform="translate(255.52 176.60) rotate(-90) scale(0.976 1)" fill="#1e1e1e" stroke="#1e1e1e" stroke-width="0.08">LIHC (<tspan font-style="italic">n</tspan> = 371)</text>
<line x1="259.13" y1="170.30" x2="259.13" y2="173.10" stroke="#1a1a1a" stroke-width="0.9"/>
<line x1="259.13" y1="157.70" x2="259.13" y2="163.50" stroke="#8a8a8a" stroke-width="0.95"/>
<line x1="259.13" y1="166.30" x2="259.13" y2="169.50" stroke="#8a8a8a" stroke-width="0.95"/>
<line x1="258.23" y1="157.70" x2="260.03" y2="157.70" stroke="#444" stroke-width="0.9"/>
<line x1="258.23" y1="169.50" x2="260.03" y2="169.50" stroke="#444" stroke-width="0.9"/>
<rect x="257.33" y="163.5" width="3.6" height="2.80" fill="#fff" stroke="#333" stroke-width="0.7"/>
<line x1="257.33" y1="165.00" x2="260.93" y2="165.00" stroke="#333" stroke-width="0.6"/>
<text x="0" y="0" font-size="6.3" text-anchor="end" transform="translate(262.03 176.60) rotate(-90) scale(0.976 1)" fill="#1e1e1e" stroke="#1e1e1e" stroke-width="0.08">OV (<tspan font-style="italic">n</tspan> = 418)</text>
<text x="279.50" y="15.70" font-size="11" font-weight="bold" fill="#000" stroke="#000" stroke-width="0.35">B</text>
<text x="410.75" y="15.80" font-size="9.6" text-anchor="middle" textLength="96.90" lengthAdjust="spacingAndGlyphs" fill="#1e1e1e" stroke="#1e1e1e" stroke-width="0.12"><tspan font-style="italic">HERC1</tspan> RNA expression</text>
<text x="410.65" y="25.90" font-size="8.2" text-anchor="middle" textLength="147.70" lengthAdjust="spacingAndGlyphs" fill="#1e1e1e" stroke="#1e1e1e" stroke-width="0.12">Cancer Cell Line Encyclopedia (n = 1296)</text>
<line x1="308.30" y1="31.50" x2="308.30" y2="170.70" stroke="#1a1a1a" stroke-width="1.1"/>
<line x1="305.80" y1="170.20" x2="308.30" y2="170.20" stroke="#1a1a1a" stroke-width="0.9"/>
<text x="302.40" y="172.70" font-size="5.4" text-anchor="end" textLength="3.34" lengthAdjust="spacingAndGlyphs" fill="#2a2a2a" stroke="#2a2a2a" stroke-width="0.1">0</text>
<line x1="305.80" y1="136.00" x2="308.30" y2="136.00" stroke="#1a1a1a" stroke-width="0.9"/>
<text x="302.40" y="138.50" font-size="5.4" text-anchor="end" textLength="3.34" lengthAdjust="spacingAndGlyphs" fill="#2a2a2a" stroke="#2a2a2a" stroke-width="0.1">2</text>
<line x1="305.80" y1="101.80" x2="308.30" y2="101.80" stroke="#1a1a1a" stroke-width="0.9"/>
<text x="302.40" y="104.30" font-size="5.4" text-anchor="end" textLength="3.34" lengthAdjust="spacingAndGlyphs" fill="#2a2a2a" stroke="#2a2a2a" stroke-width="0.1">4</text>
<line x1="305.80" y1="67.60" x2="308.30" y2="67.60" stroke="#1a1a1a" stroke-width="0.9"/>
<text x="302.40" y="70.10" font-size="5.4" text-anchor="end" textLength="3.34" lengthAdjust="spacingAndGlyphs" fill="#2a2a2a" stroke="#2a2a2a" stroke-width="0.1">6</text>
<line x1="305.80" y1="33.40" x2="308.30" y2="33.40" stroke="#1a1a1a" stroke-width="0.9"/>
<text x="302.40" y="35.90" font-size="5.4" text-anchor="end" textLength="3.34" lengthAdjust="spacingAndGlyphs" fill="#2a2a2a" stroke="#2a2a2a" stroke-width="0.1">8</text>
<line x1="308.30" y1="170.20" x2="513.00" y2="170.20" stroke="#1a1a1a" stroke-width="1.1"/>
<text x="0" y="0" font-size="8" text-anchor="middle" textLength="73.3" lengthAdjust="spacingAndGlyphs" transform="translate(293 100.2) rotate(-90)" fill="#222" stroke="#222" stroke-width="0.25"><tspan font-style="italic">HERC1</tspan> expression (log<tspan font-size="5" dy="1.5">2</tspan><tspan dy="-1.5"> TPM)</tspan></text>
<text x="411.70" y="250.70" font-size="8" text-anchor="middle" textLength="38.10" lengthAdjust="spacingAndGlyphs" fill="#222" stroke="#222" stroke-width="0.25">Cancer subtype</text>
<line x1="315.00" y1="170.20" x2="315.00" y2="173.00" stroke="#1a1a1a" stroke-width="0.9"/>
<line x1="314.00" y1="61.00" x2="314.00" y2="70.00" stroke="#8a8a8a" stroke-width="0.95"/>
<line x1="314.00" y1="94.50" x2="314.00" y2="117.30" stroke="#8a8a8a" stroke-width="0.95"/>
<line x1="312.80" y1="61.00" x2="315.20" y2="61.00" stroke="#444" stroke-width="0.7"/>
<line x1="312.80" y1="117.30" x2="315.20" y2="117.30" stroke="#444" stroke-width="0.7"/>
<rect x="311.30" y="70" width="5.4" height="24.50" fill="#d0102a" stroke="#7a0814" stroke-width="0.6"/>
<line x1="311.30" y1="82.50" x2="316.70" y2="82.50" stroke="#7a0814" stroke-width="0.7"/>
<text x="0" y="0" font-size="6.3" text-anchor="end" transform="translate(316.60 176.60) rotate(-90) scale(0.952 1)" fill="#1e1e1e" stroke="#1e1e1e" stroke-width="0.08">AML (<tspan font-style="italic">n</tspan> = 43)</text>
<line x1="323.43" y1="170.20" x2="323.43" y2="173.00" stroke="#1a1a1a" stroke-width="0.9"/>
<line x1="322.43" y1="58.40" x2="322.43" y2="69.30" stroke="#8a8a8a" stroke-width="0.95"/>
<line x1="322.43" y1="85.70" x2="322.43" y2="105.40" stroke="#8a8a8a" stroke-width="0.95"/>
<line x1="321.23" y1="58.40" x2="323.63" y2="58.40" stroke="#444" stroke-width="0.7"/>
<line x1="321.23" y1="105.40" x2="323.63" y2="105.40" stroke="#444" stroke-width="0.7"/>
<rect x="319.73" y="69.3" width="5.4" height="16.40" fill="#e0434b" stroke="#8a1820" stroke-width="0.6"/>
<line x1="319.73" y1="80.00" x2="325.13" y2="80.00" stroke="#8a1820" stroke-width="0.7"/>
<text x="0" y="0" font-size="6.3" text-anchor="end" transform="translate(325.03 176.60) rotate(-90) scale(0.952 1)" fill="#1e1e1e" stroke="#1e1e1e" stroke-width="0.08">MPN (<tspan font-style="italic">n</tspan> = 19)</text>
<line x1="331.86" y1="170.20" x2="331.86" y2="173.00" stroke="#1a1a1a" stroke-width="0.9"/>
<line x1="330.86" y1="62.40" x2="330.86" y2="78.00" stroke="#8a8a8a" stroke-width="0.95"/>
<line x1="330.86" y1="96.30" x2="330.86" y2="113.30" stroke="#8a8a8a" stroke-width="0.95"/>
<line x1="329.66" y1="62.40" x2="332.06" y2="62.40" stroke="#444" stroke-width="0.7"/>
<line x1="329.66" y1="113.30" x2="332.06" y2="113.30" stroke="#444" stroke-width="0.7"/>
<rect x="328.16" y="78" width="5.4" height="18.30" fill="#ee8272" stroke="#8a3a30" stroke-width="0.6"/>
<line x1="328.16" y1="83.70" x2="333.56" y2="83.70" stroke="#8a3a30" stroke-width="0.7"/>
<text x="0" y="0" font-size="6.3" text-anchor="end" transform="translate(333.46 176.60) rotate(-90) scale(0.952 1)" fill="#1e1e1e" stroke="#1e1e1e" stroke-width="0.08">B/T-LL (<tspan font-style="italic">n</tspan> = 38)</text>
<line x1="340.29" y1="170.20" x2="340.29" y2="173.00" stroke="#1a1a1a" stroke-width="0.9"/>
<line x1="339.29" y1="63.00" x2="339.29" y2="80.40" stroke="#8a8a8a" stroke-width="0.95"/>
<line x1="339.29" y1="94.50" x2="339.29" y2="115.30" stroke="#8a8a8a" stroke-width="0.95"/>
<line x1="338.09" y1="63.00" x2="340.49" y2="63.00" stroke="#444" stroke-width="0.7"/>
<line x1="338.09" y1="115.30" x2="340.49" y2="115.30" stroke="#444" stroke-width="0.7"/>
<rect x="336.59" y="80.4" width="5.4" height="14.10" fill="#f6c2aa" stroke="#8a5a48" stroke-width="0.6"/>
<line x1="336.59" y1="85.40" x2="341.99" y2="85.40" stroke="#8a5a48" stroke-width="0.7"/>
<text x="0" y="0" font-size="6.3" text-anchor="end" transform="translate(341.89 176.60) rotate(-90) scale(0.952 1)" fill="#1e1e1e" stroke="#1e1e1e" stroke-width="0.08">NHL (<tspan font-style="italic">n</tspan> = 112)</text>
<line x1="348.72" y1="170.20" x2="348.72" y2="173.00" stroke="#1a1a1a" stroke-width="0.9"/>
<line x1="347.72" y1="61.00" x2="347.72" y2="78.30" stroke="#8a8a8a" stroke-width="0.95"/>
<line x1="347.72" y1="96.10" x2="347.72" y2="104.80" stroke="#8a8a8a" stroke-width="0.95"/>
<line x1="346.52" y1="61.00" x2="348.92" y2="61.00" stroke="#444" stroke-width="0.7"/>
<line x1="346.52" y1="104.80" x2="348.92" y2="104.80" stroke="#444" stroke-width="0.7"/>
<rect x="345.02" y="78.3" width="5.4" height="17.80" fill="#fde2d6" stroke="#7a6a64" stroke-width="0.6"/>
<line x1="345.02" y1="87.00" x2="350.42" y2="87.00" stroke="#7a6a64" stroke-width="0.7"/>
<text x="0" y="0" font-size="6.3" text-anchor="end" transform="translate(350.32 176.60) rotate(-90) scale(0.952 1)" fill="#1e1e1e" stroke="#1e1e1e" stroke-width="0.08">Neuroblastoma (<tspan font-style="italic">n</tspan> = 39)</text>
<line x1="357.15" y1="170.20" x2="357.15" y2="173.00" stroke="#1a1a1a" stroke-width="0.9"/>
<line x1="356.15" y1="70.50" x2="356.15" y2="84.50" stroke="#8a8a8a" stroke-width="0.95"/>
<line x1="356.15" y1="98.20" x2="356.15" y2="111.40" stroke="#8a8a8a" stroke-width="0.95"/>
<line x1="354.95" y1="70.50" x2="357.35" y2="70.50" stroke="#444" stroke-width="0.7"/>
<line x1="354.95" y1="111.40" x2="357.35" y2="111.40" stroke="#444" stroke-width="0.7"/>
<rect x="353.45" y="84.5" width="5.4" height="13.70" fill="#fff" stroke="#444" stroke-width="0.6"/>
<line x1="353.45" y1="91.80" x2="358.85" y2="91.80" stroke="#444" stroke-width="0.7"/>
<rect x="355.35" y="65.95" width="1.6" height="1.1" fill="#333"/>
<text x="0" y="0" font-size="6.3" text-anchor="end" transform="translate(358.75 176.60) rotate(-90) scale(0.952 1)" fill="#1e1e1e" stroke="#1e1e1e" stroke-width="0.08">SARC (<tspan font-style="italic">n</tspan> = 40)</text>
<line x1="365.58" y1="170.20" x2="365.58" y2="173.00" stroke="#1a1a1a" stroke-width="0.9"/>
<line x1="364.58" y1="70.50" x2="364.58" y2="84.50" stroke="#8a8a8a" stroke-width="0.95"/>
<line x1="364.58" y1="98.20" x2="364.58" y2="111.40" stroke="#8a8a8a" stroke-width="0.95"/>
<line x1="363.38" y1="70.50" x2="365.78" y2="70.50" stroke="#444" stroke-width="0.7"/>
<line x1="363.38" y1="111.40" x2="365.78" y2="111.40" stroke="#444" stroke-width="0.7"/>
<rect x="361.88" y="84.5" width="5.4" height="13.70" fill="#fff" stroke="#444" stroke-width="0.6"/>
<line x1="361.88" y1="91.80" x2="367.28" y2="91.80" stroke="#444" stroke-width="0.7"/>
<rect x="363.78" y="65.95" width="1.6" height="1.1" fill="#333"/>
<text x="0" y="0" font-size="6.3" text-anchor="end" transform="translate(367.18 176.60) rotate(-90) scale(0.952 1)" fill="#1e1e1e" stroke="#1e1e1e" stroke-width="0.08">COAD (<tspan font-style="italic">n</tspan> = 40)</text>
<line x1="374.01" y1="170.20" x2="374.01" y2="173.00" stroke="#1a1a1a" stroke-width="0.9"/>
<line x1="373.01" y1="64.30" x2="373.01" y2="83.30" stroke="#8a8a8a" stroke-width="0.95"/>
<line x1="373.01" y1="98.40" x2="373.01" y2="120.70" stroke="#8a8a8a" stroke-width="0.95"/>
<line x1="371.81" y1="64.30" x2="374.21" y2="64.30" stroke="#444" stroke-width="0.7"/>
<line x1="371.81" y1="120.70" x2="374.21" y2="120.70" stroke="#444" stroke-width="0.7"/>
<rect x="370.31" y="83.3" width="5.4" height="15.10" fill="#fff" stroke="#444" stroke-width="0.6"/>
<line x1="370.31" y1="91.20" x2="375.71" y2="91.20" stroke="#444" stroke-width="0.7"/>
<rect x="372.21" y="59.75" width="1.6" height="1.1" fill="#333"/>
<rect x="372.21" y="57.35" width="1.6" height="1.1" fill="#333"/>
<text x="0" y="0" font-size="6.3" text-anchor="end" transform="translate(375.61 176.60) rotate(-90) scale(0.952 1)" fill="#1e1e1e" stroke="#1e1e1e" stroke-width="0.08">Lung Cancer (<tspan font-style="italic">n</tspan> = 191)</text>
<line x1="382.44" y1="170.20" x2="382.44" y2="173.00" stroke="#1a1a1a" stroke-width="0.9"/>
<line x1="381.44" y1="74.90" x2="381.44" y2="85.30" stroke="#8a8a8a" stroke-width="0.95"/>
<line x1="381.44" y1="96.80" x2="381.44" y2="114.10" stroke="#8a8a8a" stroke-width="0.95"/>
<line x1="380.24" y1="74.90" x2="382.64" y2="74.90" stroke="#444" stroke-width="0.7"/>
<line x1="380.24" y1="114.10" x2="382.64" y2="114.10" stroke="#444" stroke-width="0.7"/>
<rect x="378.74" y="85.3" width="5.4" height="11.50" fill="#fff" stroke="#444" stroke-width="0.6"/>
<line x1="378.74" y1="91.20" x2="384.14" y2="91.20" stroke="#444" stroke-width="0.7"/>
<rect x="380.64" y="70.35" width="1.6" height="1.1" fill="#333"/>
<rect x="380.64" y="67.95" width="1.6" height="1.1" fill="#333"/>
<text x="0" y="0" font-size="6.3" text-anchor="end" transform="translate(384.04 176.60) rotate(-90) scale(0.952 1)" fill="#1e1e1e" stroke="#1e1e1e" stroke-width="0.08">GBM (<tspan font-style="italic">n</tspan> = 97)</text>
<line x1="390.87" y1="170.20" x2="390.87" y2="173.00" stroke="#1a1a1a" stroke-width="0.9"/>
<line x1="389.87" y1="79.50" x2="389.87" y2="89.40" stroke="#8a8a8a" stroke-width="0.95"/>
<line x1="389.87" y1="99.40" x2="389.87" y2="108.40" stroke="#8a8a8a" stroke-width="0.95"/>
<line x1="388.67" y1="79.50" x2="391.07" y2="79.50" stroke="#444" stroke-width="0.7"/>
<line x1="388.67" y1="108.40" x2="391.07" y2="108.40" stroke="#444" stroke-width="0.7"/>
<rect x="387.17" y="89.4" width="5.4" height="10.00" fill="#fff" stroke="#444" stroke-width="0.6"/>
<line x1="387.17" y1="93.80" x2="392.57" y2="93.80" stroke="#444" stroke-width="0.7"/>
<rect x="389.07" y="74.95" width="1.6" height="1.1" fill="#333"/>
<rect x="389.07" y="72.55" width="1.6" height="1.1" fill="#333"/>
<text x="0" y="0" font-size="6.3" text-anchor="end" transform="translate(392.47 176.60) rotate(-90) scale(0.952 1)" fill="#1e1e1e" stroke="#1e1e1e" stroke-width="0.08">LIHC (<tspan font-style="italic">n</tspan> = 26)</text>
<line x1="399.30" y1="170.20" x2="399.30" y2="173.00" stroke="#1a1a1a" stroke-width="0.9"/>
<line x1="398.30" y1="69.50" x2="398.30" y2="83.50" stroke="#8a8a8a" stroke-width="0.95"/>
<line x1="398.30" y1="104.30" x2="398.30" y2="124.20" stroke="#8a8a8a" stroke-width="0.95"/>
<line x1="397.10" y1="69.50" x2="399.50" y2="69.50" stroke="#444" stroke-width="0.7"/>
<line x1="397.10" y1="124.20" x2="399.50" y2="124.20" stroke="#444" stroke-width="0.7"/>
<rect x="395.60" y="83.5" width="5.4" height="20.80" fill="#fff" stroke="#444" stroke-width="0.6"/>
<line x1="395.60" y1="91.30" x2="401.00" y2="91.30" stroke="#444" stroke-width="0.7"/>
<rect x="397.50" y="64.95" width="1.6" height="1.1" fill="#333"/>
<rect x="397.50" y="62.55" width="1.6" height="1.1" fill="#333"/>
<text x="0" y="0" font-size="6.3" text-anchor="end" transform="translate(400.90 176.60) rotate(-90) scale(0.952 1)" fill="#1e1e1e" stroke="#1e1e1e" stroke-width="0.08">Breast cancer (<tspan font-style="italic">n</tspan> = 68)</text>
<line x1="407.73" y1="170.20" x2="407.73" y2="173.00" stroke="#1a1a1a" stroke-width="0.9"/>
<line x1="406.73" y1="69.00" x2="406.73" y2="87.50" stroke="#8a8a8a" stroke-width="0.95"/>
<line x1="406.73" y1="105.30" x2="406.73" y2="120.50" stroke="#8a8a8a" stroke-width="0.95"/>
<line x1="405.53" y1="69.00" x2="407.93" y2="69.00" stroke="#444" stroke-width="0.7"/>
<line x1="405.53" y1="120.50" x2="407.93" y2="120.50" stroke="#444" stroke-width="0.7"/>
<rect x="404.03" y="87.5" width="5.4" height="17.80" fill="#fff" stroke="#444" stroke-width="0.6"/>
<line x1="404.03" y1="96.10" x2="409.43" y2="96.10" stroke="#444" stroke-width="0.7"/>
<rect x="405.93" y="64.45" width="1.6" height="1.1" fill="#333"/>
<rect x="405.93" y="62.05" width="1.6" height="1.1" fill="#333"/>
<rect x="405.93" y="59.65" width="1.6" height="1.1" fill="#333"/>
<rect x="405.93" y="57.25" width="1.6" height="1.1" fill="#333"/>
<text x="0" y="0" font-size="6.3" text-anchor="end" transform="translate(409.33 176.60) rotate(-90) scale(0.952 1)" fill="#1e1e1e" stroke="#1e1e1e" stroke-width="0.08">Melanoma (<tspan font-style="italic">n</tspan> = 89)</text>
<line x1="416.16" y1="170.20" x2="416.16" y2="173.00" stroke="#1a1a1a" stroke-width="0.9"/>
<line x1="415.16" y1="79.00" x2="415.16" y2="89.40" stroke="#8a8a8a" stroke-width="0.95"/>
<line x1="415.16" y1="103.40" x2="415.16" y2="121.60" stroke="#8a8a8a" stroke-width="0.95"/>
<line x1="413.96" y1="79.00" x2="416.36" y2="79.00" stroke="#444" stroke-width="0.7"/>
<line x1="413.96" y1="121.60" x2="416.36" y2="121.60" stroke="#444" stroke-width="0.7"/>
<rect x="412.46" y="89.4" width="5.4" height="14.00" fill="#fff" stroke="#444" stroke-width="0.6"/>
<line x1="412.46" y1="95.50" x2="417.86" y2="95.50" stroke="#444" stroke-width="0.7"/>
<rect x="414.36" y="74.45" width="1.6" height="1.1" fill="#333"/>
<rect x="414.36" y="72.05" width="1.6" height="1.1" fill="#333"/>
<rect x="414.36" y="69.65" width="1.6" height="1.1" fill="#333"/>
<rect x="414.36" y="67.25" width="1.6" height="1.1" fill="#333"/>
<text x="0" y="0" font-size="6.3" text-anchor="end" transform="translate(417.76 176.60) rotate(-90) scale(0.952 1)" fill="#1e1e1e" stroke="#1e1e1e" stroke-width="0.08">Bladder Cancer (<tspan font-style="italic">n</tspan> = 37)</text>
<line x1="424.59" y1="170.20" x2="424.59" y2="173.00" stroke="#1a1a1a" stroke-width="0.9"/>
<line x1="423.59" y1="72.70" x2="423.59" y2="84.60" stroke="#8a8a8a" stroke-width="0.95"/>
<line x1="423.59" y1="107.30" x2="423.59" y2="126.00" stroke="#8a8a8a" stroke-width="0.95"/>
<line x1="422.39" y1="72.70" x2="424.79" y2="72.70" stroke="#444" stroke-width="0.7"/>
<line x1="422.39" y1="126.00" x2="424.79" y2="126.00" stroke="#444" stroke-width="0.7"/>
<rect x="420.89" y="84.6" width="5.4" height="22.70" fill="#fff" stroke="#444" stroke-width="0.6"/>
<line x1="420.89" y1="95.50" x2="426.29" y2="95.50" stroke="#444" stroke-width="0.7"/>
<rect x="422.79" y="68.15" width="1.6" height="1.1" fill="#333"/>
<rect x="422.79" y="65.75" width="1.6" height="1.1" fill="#333"/>
<text x="0" y="0" font-size="6.3" text-anchor="end" transform="translate(426.19 176.60) rotate(-90) scale(0.952 1)" fill="#1e1e1e" stroke="#1e1e1e" stroke-width="0.08">PRAD (<tspan font-style="italic">n</tspan> = 12)</text>
<line x1="433.02" y1="170.20" x2="433.02" y2="173.00" stroke="#1a1a1a" stroke-width="0.9"/>
<line x1="432.02" y1="69.00" x2="432.02" y2="88.10" stroke="#8a8a8a" stroke-width="0.95"/>
<line x1="432.02" y1="103.40" x2="432.02" y2="112.50" stroke="#8a8a8a" stroke-width="0.95"/>
<line x1="430.82" y1="69.00" x2="433.22" y2="69.00" stroke="#444" stroke-width="0.7"/>
<line x1="430.82" y1="112.50" x2="433.22" y2="112.50" stroke="#444" stroke-width="0.7"/>
<rect x="429.32" y="88.1" width="5.4" height="15.30" fill="#fff" stroke="#444" stroke-width="0.6"/>
<line x1="429.32" y1="94.20" x2="434.72" y2="94.20" stroke="#444" stroke-width="0.7"/>
<rect x="431.22" y="64.45" width="1.6" height="1.1" fill="#333"/>
<rect x="431.22" y="62.05" width="1.6" height="1.1" fill="#333"/>
<rect x="431.22" y="59.65" width="1.6" height="1.1" fill="#333"/>
<text x="0" y="0" font-size="6.3" text-anchor="end" transform="translate(434.62 176.60) rotate(-90) scale(0.952 1)" fill="#1e1e1e" stroke="#1e1e1e" stroke-width="0.08">THCA (<tspan font-style="italic">n</tspan> = 16)</text>
<line x1="441.45" y1="170.20" x2="441.45" y2="173.00" stroke="#1a1a1a" stroke-width="0.9"/>
<line x1="440.45" y1="68.40" x2="440.45" y2="90.20" stroke="#8a8a8a" stroke-width="0.95"/>
<line x1="440.45" y1="109.30" x2="440.45" y2="133.70" stroke="#8a8a8a" stroke-width="0.95"/>
<line x1="439.25" y1="68.40" x2="441.65" y2="68.40" stroke="#444" stroke-width="0.7"/>
<line x1="439.25" y1="133.70" x2="441.65" y2="133.70" stroke="#444" stroke-width="0.7"/>
<rect x="437.75" y="90.2" width="5.4" height="19.10" fill="#fff" stroke="#444" stroke-width="0.6"/>
<line x1="437.75" y1="97.70" x2="443.15" y2="97.70" stroke="#444" stroke-width="0.7"/>
<rect x="439.65" y="63.85" width="1.6" height="1.1" fill="#333"/>
<rect x="439.65" y="61.45" width="1.6" height="1.1" fill="#333"/>
<rect x="439.65" y="59.05" width="1.6" height="1.1" fill="#333"/>
<rect x="439.65" y="56.65" width="1.6" height="1.1" fill="#333"/>
<text x="0" y="0" font-size="6.3" text-anchor="end" transform="translate(443.05 176.60) rotate(-90) scale(0.952 1)" fill="#1e1e1e" stroke="#1e1e1e" stroke-width="0.08">ESCA (<tspan font-style="italic">n</tspan> = 84)</text>
<line x1="449.88" y1="170.20" x2="449.88" y2="173.00" stroke="#1a1a1a" stroke-width="0.9"/>
<line x1="448.88" y1="88.00" x2="448.88" y2="94.20" stroke="#8a8a8a" stroke-width="0.95"/>
<line x1="448.88" y1="105.30" x2="448.88" y2="119.70" stroke="#8a8a8a" stroke-width="0.95"/>
<line x1="447.68" y1="88.00" x2="450.08" y2="88.00" stroke="#444" stroke-width="0.7"/>
<line x1="447.68" y1="119.70" x2="450.08" y2="119.70" stroke="#444" stroke-width="0.7"/>
<rect x="446.18" y="94.2" width="5.4" height="11.10" fill="#fff" stroke="#444" stroke-width="0.6"/>
<line x1="446.18" y1="100.00" x2="451.58" y2="100.00" stroke="#444" stroke-width="0.7"/>
<rect x="448.08" y="83.45" width="1.6" height="1.1" fill="#333"/>
<rect x="448.08" y="81.05" width="1.6" height="1.1" fill="#333"/>
<rect x="448.08" y="78.65" width="1.6" height="1.1" fill="#333"/>
<rect x="448.08" y="76.25" width="1.6" height="1.1" fill="#333"/>
<text x="0" y="0" font-size="6.3" text-anchor="end" transform="translate(451.48 176.60) rotate(-90) scale(0.952 1)" fill="#1e1e1e" stroke="#1e1e1e" stroke-width="0.08">MESO (<tspan font-style="italic">n</tspan> = 21)</text>
<line x1="458.31" y1="170.20" x2="458.31" y2="173.00" stroke="#1a1a1a" stroke-width="0.9"/>
<line x1="457.31" y1="79.40" x2="457.31" y2="94.30" stroke="#8a8a8a" stroke-width="0.95"/>
<line x1="457.31" y1="110.10" x2="457.31" y2="118.00" stroke="#8a8a8a" stroke-width="0.95"/>
<line x1="456.11" y1="79.40" x2="458.51" y2="79.40" stroke="#444" stroke-width="0.7"/>
<line x1="456.11" y1="118.00" x2="458.51" y2="118.00" stroke="#444" stroke-width="0.7"/>
<rect x="454.61" y="94.3" width="5.4" height="15.80" fill="#fff" stroke="#444" stroke-width="0.6"/>
<line x1="454.61" y1="100.60" x2="460.01" y2="100.60" stroke="#444" stroke-width="0.7"/>
<rect x="456.51" y="74.85" width="1.6" height="1.1" fill="#333"/>
<rect x="456.51" y="72.45" width="1.6" height="1.1" fill="#333"/>
<rect x="456.51" y="70.05" width="1.6" height="1.1" fill="#333"/>
<rect x="456.51" y="67.65" width="1.6" height="1.1" fill="#333"/>
<text x="0" y="0" font-size="6.3" text-anchor="end" transform="translate(459.91 176.60) rotate(-90) scale(0.952 1)" fill="#1e1e1e" stroke="#1e1e1e" stroke-width="0.08">CESC (<tspan font-style="italic">n</tspan> = 20)</text>
<line x1="466.74" y1="170.20" x2="466.74" y2="173.00" stroke="#1a1a1a" stroke-width="0.9"/>
<line x1="465.74" y1="79.40" x2="465.74" y2="93.40" stroke="#8a8a8a" stroke-width="0.95"/>
<line x1="465.74" y1="111.30" x2="465.74" y2="138.80" stroke="#8a8a8a" stroke-width="0.95"/>
<line x1="464.54" y1="79.40" x2="466.94" y2="79.40" stroke="#444" stroke-width="0.7"/>
<line x1="464.54" y1="138.80" x2="466.94" y2="138.80" stroke="#444" stroke-width="0.7"/>
<rect x="463.04" y="93.4" width="5.4" height="17.90" fill="#fff" stroke="#444" stroke-width="0.6"/>
<line x1="463.04" y1="104.10" x2="468.44" y2="104.10" stroke="#444" stroke-width="0.7"/>
<rect x="464.94" y="74.85" width="1.6" height="1.1" fill="#333"/>
<rect x="464.94" y="72.45" width="1.6" height="1.1" fill="#333"/>
<rect x="464.94" y="70.05" width="1.6" height="1.1" fill="#333"/>
<rect x="464.94" y="67.65" width="1.6" height="1.1" fill="#333"/>
<text x="0" y="0" font-size="6.3" text-anchor="end" transform="translate(468.34 176.60) rotate(-90) scale(0.952 1)" fill="#1e1e1e" stroke="#1e1e1e" stroke-width="0.08">OV (<tspan font-style="italic">n</tspan> = 68)</text>
<line x1="475.17" y1="170.20" x2="475.17" y2="173.00" stroke="#1a1a1a" stroke-width="0.9"/>
<line x1="474.17" y1="87.50" x2="474.17" y2="94.60" stroke="#8a8a8a" stroke-width="0.95"/>
<line x1="474.17" y1="109.10" x2="474.17" y2="129.60" stroke="#8a8a8a" stroke-width="0.95"/>
<line x1="472.97" y1="87.50" x2="475.37" y2="87.50" stroke="#444" stroke-width="0.7"/>
<line x1="472.97" y1="129.60" x2="475.37" y2="129.60" stroke="#444" stroke-width="0.7"/>
<rect x="471.47" y="94.6" width="5.4" height="14.50" fill="#fff" stroke="#444" stroke-width="0.6"/>
<line x1="471.47" y1="100.80" x2="476.87" y2="100.80" stroke="#444" stroke-width="0.7"/>
<rect x="473.37" y="82.95" width="1.6" height="1.1" fill="#333"/>
<rect x="473.37" y="80.55" width="1.6" height="1.1" fill="#333"/>
<rect x="473.37" y="78.15" width="1.6" height="1.1" fill="#333"/>
<rect x="473.37" y="75.75" width="1.6" height="1.1" fill="#333"/>
<text x="0" y="0" font-size="6.3" text-anchor="end" transform="translate(476.77 176.60) rotate(-90) scale(0.952 1)" fill="#1e1e1e" stroke="#1e1e1e" stroke-width="0.08">UCEC (<tspan font-style="italic">n</tspan> = 40)</text>
<line x1="483.60" y1="170.20" x2="483.60" y2="173.00" stroke="#1a1a1a" stroke-width="0.9"/>
<line x1="482.60" y1="79.00" x2="482.60" y2="97.50" stroke="#8a8a8a" stroke-width="0.95"/>
<line x1="482.60" y1="109.70" x2="482.60" y2="119.60" stroke="#8a8a8a" stroke-width="0.95"/>
<line x1="481.40" y1="79.00" x2="483.80" y2="79.00" stroke="#444" stroke-width="0.7"/>
<line x1="481.40" y1="119.60" x2="483.80" y2="119.60" stroke="#444" stroke-width="0.7"/>
<rect x="479.90" y="97.5" width="5.4" height="12.20" fill="#fff" stroke="#444" stroke-width="0.6"/>
<line x1="479.90" y1="105.10" x2="485.30" y2="105.10" stroke="#444" stroke-width="0.7"/>
<rect x="481.80" y="74.45" width="1.6" height="1.1" fill="#333"/>
<rect x="481.80" y="72.05" width="1.6" height="1.1" fill="#333"/>
<rect x="481.80" y="69.65" width="1.6" height="1.1" fill="#333"/>
<rect x="481.80" y="67.25" width="1.6" height="1.1" fill="#333"/>
<text x="0" y="0" font-size="6.3" text-anchor="end" transform="translate(485.20 176.60) rotate(-90) scale(0.952 1)" fill="#1e1e1e" stroke="#1e1e1e" stroke-width="0.08">PAAD (<tspan font-style="italic">n</tspan> = 57)</text>
<line x1="492.03" y1="170.20" x2="492.03" y2="173.00" stroke="#1a1a1a" stroke-width="0.9"/>
<line x1="491.03" y1="64.10" x2="491.03" y2="94.60" stroke="#8a8a8a" stroke-width="0.95"/>
<line x1="491.03" y1="114.70" x2="491.03" y2="143.60" stroke="#8a8a8a" stroke-width="0.95"/>
<line x1="489.83" y1="64.10" x2="492.23" y2="64.10" stroke="#444" stroke-width="0.7"/>
<line x1="489.83" y1="143.60" x2="492.23" y2="143.60" stroke="#444" stroke-width="0.7"/>
<rect x="488.33" y="94.6" width="5.4" height="20.10" fill="#fff" stroke="#444" stroke-width="0.6"/>
<line x1="488.33" y1="104.20" x2="493.73" y2="104.20" stroke="#444" stroke-width="0.7"/>
<rect x="490.23" y="59.55" width="1.6" height="1.1" fill="#333"/>
<rect x="490.23" y="57.15" width="1.6" height="1.1" fill="#333"/>
<rect x="490.23" y="54.75" width="1.6" height="1.1" fill="#333"/>
<rect x="490.23" y="52.35" width="1.6" height="1.1" fill="#333"/>
<text x="0" y="0" font-size="6.3" text-anchor="end" transform="translate(493.63 176.60) rotate(-90) scale(0.952 1)" fill="#1e1e1e" stroke="#1e1e1e" stroke-width="0.08">Renal Cancer (<tspan font-style="italic">n</tspan> = 43)</text>
<line x1="500.46" y1="170.20" x2="500.46" y2="173.00" stroke="#1a1a1a" stroke-width="0.9"/>
<line x1="499.46" y1="80.10" x2="499.46" y2="97.50" stroke="#8a8a8a" stroke-width="0.95"/>
<line x1="499.46" y1="115.30" x2="499.46" y2="139.20" stroke="#8a8a8a" stroke-width="0.95"/>
<line x1="498.26" y1="80.10" x2="500.66" y2="80.10" stroke="#444" stroke-width="0.7"/>
<line x1="498.26" y1="139.20" x2="500.66" y2="139.20" stroke="#444" stroke-width="0.7"/>
<rect x="496.76" y="97.5" width="5.4" height="17.80" fill="#fff" stroke="#444" stroke-width="0.6"/>
<line x1="496.76" y1="105.10" x2="502.16" y2="105.10" stroke="#444" stroke-width="0.7"/>
<rect x="498.66" y="75.55" width="1.6" height="1.1" fill="#333"/>
<rect x="498.66" y="73.15" width="1.6" height="1.1" fill="#333"/>
<rect x="498.66" y="70.75" width="1.6" height="1.1" fill="#333"/>
<rect x="498.66" y="68.35" width="1.6" height="1.1" fill="#333"/>
<text x="0" y="0" font-size="6.3" text-anchor="end" transform="translate(502.06 176.60) rotate(-90) scale(0.952 1)" fill="#1e1e1e" stroke="#1e1e1e" stroke-width="0.08">HNSC (<tspan font-style="italic">n</tspan> = 60)</text>
<line x1="508.89" y1="170.20" x2="508.89" y2="173.00" stroke="#1a1a1a" stroke-width="0.9"/>
<line x1="507.89" y1="87.90" x2="507.89" y2="100.60" stroke="#8a8a8a" stroke-width="0.95"/>
<line x1="507.89" y1="117.30" x2="507.89" y2="134.00" stroke="#8a8a8a" stroke-width="0.95"/>
<line x1="506.69" y1="87.90" x2="509.09" y2="87.90" stroke="#444" stroke-width="0.7"/>
<line x1="506.69" y1="134.00" x2="509.09" y2="134.00" stroke="#444" stroke-width="0.7"/>
<rect x="505.19" y="100.6" width="5.4" height="16.70" fill="#fff" stroke="#444" stroke-width="0.6"/>
<line x1="505.19" y1="110.20" x2="510.59" y2="110.20" stroke="#444" stroke-width="0.7"/>
<rect x="507.09" y="83.35" width="1.6" height="1.1" fill="#333"/>
<rect x="507.09" y="80.95" width="1.6" height="1.1" fill="#333"/>
<rect x="507.09" y="78.55" width="1.6" height="1.1" fill="#333"/>
<rect x="507.09" y="76.15" width="1.6" height="1.1" fill="#333"/>
<text x="0" y="0" font-size="6.3" text-anchor="end" transform="translate(510.49 176.60) rotate(-90) scale(0.952 1)" fill="#1e1e1e" stroke="#1e1e1e" stroke-width="0.08">Biliary Cancer (<tspan font-style="italic">n</tspan> = 38)</text>
<text x="40.50" y="277.00" font-size="11" font-weight="bold" fill="#000" stroke="#000" stroke-width="0.35">C</text>
<text x="169.15" y="287.90" font-size="9.7" text-anchor="middle" textLength="73.30" lengthAdjust="spacingAndGlyphs" fill="#1e1e1e" stroke="#1e1e1e" stroke-width="0.12">BEAT AML Cohort</text>
<text x="168.90" y="297.30" font-size="8.6" text-anchor="middle" textLength="103.20" lengthAdjust="spacingAndGlyphs" fill="#1e1e1e" stroke="#1e1e1e" stroke-width="0.12"><tspan font-style="italic">HERC1</tspan> expression (n = 556)</text>
<line x1="79.60" y1="302.80" x2="79.60" y2="412.30" stroke="#1a1a1a" stroke-width="1.1"/>
<line x1="77.40" y1="411.80" x2="79.60" y2="411.80" stroke="#1a1a1a" stroke-width="0.8"/>
<text x="73.30" y="413.75" font-size="5.4" text-anchor="end" textLength="3.17" lengthAdjust="spacingAndGlyphs" fill="#2a2a2a" stroke="#2a2a2a" stroke-width="0.1">0</text>
<line x1="77.40" y1="401.32" x2="79.60" y2="401.32" stroke="#1a1a1a" stroke-width="0.8"/>
<line x1="77.40" y1="390.84" x2="79.60" y2="390.84" stroke="#1a1a1a" stroke-width="0.8"/>
<text x="73.30" y="392.79" font-size="5.4" text-anchor="end" textLength="6.34" lengthAdjust="spacingAndGlyphs" fill="#2a2a2a" stroke="#2a2a2a" stroke-width="0.1">20</text>
<line x1="77.40" y1="380.36" x2="79.60" y2="380.36" stroke="#1a1a1a" stroke-width="0.8"/>
<line x1="77.40" y1="369.88" x2="79.60" y2="369.88" stroke="#1a1a1a" stroke-width="0.8"/>
<text x="73.30" y="371.83" font-size="5.4" text-anchor="end" textLength="6.34" lengthAdjust="spacingAndGlyphs" fill="#2a2a2a" stroke="#2a2a2a" stroke-width="0.1">40</text>
<line x1="77.40" y1="359.40" x2="79.60" y2="359.40" stroke="#1a1a1a" stroke-width="0.8"/>
<line x1="77.40" y1="348.92" x2="79.60" y2="348.92" stroke="#1a1a1a" stroke-width="0.8"/>
<text x="73.30" y="350.87" font-size="5.4" text-anchor="end" textLength="6.34" lengthAdjust="spacingAndGlyphs" fill="#2a2a2a" stroke="#2a2a2a" stroke-width="0.1">60</text>
<line x1="77.40" y1="338.44" x2="79.60" y2="338.44" stroke="#1a1a1a" stroke-width="0.8"/>
<line x1="77.40" y1="327.96" x2="79.60" y2="327.96" stroke="#1a1a1a" stroke-width="0.8"/>
<text x="73.30" y="329.91" font-size="5.4" text-anchor="end" textLength="6.34" lengthAdjust="spacingAndGlyphs" fill="#2a2a2a" stroke="#2a2a2a" stroke-width="0.1">80</text>
<line x1="77.40" y1="317.48" x2="79.60" y2="317.48" stroke="#1a1a1a" stroke-width="0.8"/>
<line x1="77.40" y1="307.00" x2="79.60" y2="307.00" stroke="#1a1a1a" stroke-width="0.8"/>
<text x="73.30" y="308.95" font-size="5.4" text-anchor="end" textLength="9.51" lengthAdjust="spacingAndGlyphs" fill="#2a2a2a" stroke="#2a2a2a" stroke-width="0.1">100</text>
<line x1="79.60" y1="411.80" x2="257.40" y2="411.80" stroke="#1a1a1a" stroke-width="1.1"/>
<line x1="79.60" y1="411.80" x2="79.60" y2="414.00" stroke="#1a1a1a" stroke-width="0.8"/>
<line x1="88.27" y1="411.80" x2="88.27" y2="414.00" stroke="#1a1a1a" stroke-width="0.8"/>
<line x1="96.94" y1="411.80" x2="96.94" y2="414.00" stroke="#1a1a1a" stroke-width="0.8"/>
<line x1="105.61" y1="411.80" x2="105.61" y2="414.00" stroke="#1a1a1a" stroke-width="0.8"/>
<line x1="114.28" y1="411.80" x2="114.28" y2="414.00" stroke="#1a1a1a" stroke-width="0.8"/>
<line x1="122.95" y1="411.80" x2="122.95" y2="414.00" stroke="#1a1a1a" stroke-width="0.8"/>
<line x1="131.62" y1="411.80" x2="131.62" y2="414.00" stroke="#1a1a1a" stroke-width="0.8"/>
<line x1="140.29" y1="411.80" x2="140.29" y2="414.00" stroke="#1a1a1a" stroke-width="0.8"/>
<line x1="148.96" y1="411.80" x2="148.96" y2="414.00" stroke="#1a1a1a" stroke-width="0.8"/>
<line x1="157.63" y1="411.80" x2="157.63" y2="414.00" stroke="#1a1a1a" stroke-width="0.8"/>
<line x1="166.30" y1="411.80" x2="166.30" y2="414.00" stroke="#1a1a1a" stroke-width="0.8"/>
<line x1="174.97" y1="411.80" x2="174.97" y2="414.00" stroke="#1a1a1a" stroke-width="0.8"/>
<line x1="183.64" y1="411.80" x2="183.64" y2="414.00" stroke="#1a1a1a" stroke-width="0.8"/>
<line x1="192.31" y1="411.80" x2="192.31" y2="414.00" stroke="#1a1a1a" stroke-width="0.8"/>
<line x1="200.98" y1="411.80" x2="200.98" y2="414.00" stroke="#1a1a1a" stroke-width="0.8"/>
<line x1="209.65" y1="411.80" x2="209.65" y2="414.00" stroke="#1a1a1a" stroke-width="0.8"/>
<line x1="218.32" y1="411.80" x2="218.32" y2="414.00" stroke="#1a1a1a" stroke-width="0.8"/>
<line x1="226.99" y1="411.80" x2="226.99" y2="414.00" stroke="#1a1a1a" stroke-width="0.8"/>
<line x1="235.66" y1="411.80" x2="235.66" y2="414.00" stroke="#1a1a1a" stroke-width="0.8"/>
<line x1="244.33" y1="411.80" x2="244.33" y2="414.00" stroke="#1a1a1a" stroke-width="0.8"/>
<line x1="253.00" y1="411.80" x2="253.00" y2="414.00" stroke="#1a1a1a" stroke-width="0.8"/>
<text x="79.60" y="422.70" font-size="5.4" text-anchor="middle" textLength="3.28" lengthAdjust="spacingAndGlyphs" fill="#2a2a2a" stroke="#2a2a2a" stroke-width="0.1">0</text>
<text x="96.94" y="422.70" font-size="5.4" text-anchor="middle" textLength="6.56" lengthAdjust="spacingAndGlyphs" fill="#2a2a2a" stroke="#2a2a2a" stroke-width="0.1">10</text>
<text x="114.28" y="422.70" font-size="5.4" text-anchor="middle" textLength="6.56" lengthAdjust="spacingAndGlyphs" fill="#2a2a2a" stroke="#2a2a2a" stroke-width="0.1">20</text>
<text x="131.62" y="422.70" font-size="5.4" text-anchor="middle" textLength="6.56" lengthAdjust="spacingAndGlyphs" fill="#2a2a2a" stroke="#2a2a2a" stroke-width="0.1">30</text>
<text x="148.96" y="422.70" font-size="5.4" text-anchor="middle" textLength="6.56" lengthAdjust="spacingAndGlyphs" fill="#2a2a2a" stroke="#2a2a2a" stroke-width="0.1">40</text>
<text x="166.30" y="422.70" font-size="5.4" text-anchor="middle" textLength="6.56" lengthAdjust="spacingAndGlyphs" fill="#2a2a2a" stroke="#2a2a2a" stroke-width="0.1">50</text>
<text x="183.64" y="422.70" font-size="5.4" text-anchor="middle" textLength="6.56" lengthAdjust="spacingAndGlyphs" fill="#2a2a2a" stroke="#2a2a2a" stroke-width="0.1">60</text>
<text x="200.98" y="422.70" font-size="5.4" text-anchor="middle" textLength="6.56" lengthAdjust="spacingAndGlyphs" fill="#2a2a2a" stroke="#2a2a2a" stroke-width="0.1">70</text>
<text x="218.32" y="422.70" font-size="5.4" text-anchor="middle" textLength="6.56" lengthAdjust="spacingAndGlyphs" fill="#2a2a2a" stroke="#2a2a2a" stroke-width="0.1">80</text>
<text x="235.66" y="422.70" font-size="5.4" text-anchor="middle" textLength="6.56" lengthAdjust="spacingAndGlyphs" fill="#2a2a2a" stroke="#2a2a2a" stroke-width="0.1">90</text>
<text x="253.00" y="422.70" font-size="5.4" text-anchor="middle" textLength="9.84" lengthAdjust="spacingAndGlyphs" fill="#2a2a2a" stroke="#2a2a2a" stroke-width="0.1">100</text>
<text x="0" y="0" font-size="7.2" text-anchor="middle" textLength="86.6" lengthAdjust="spacingAndGlyphs" transform="translate(57.7 355.6) rotate(-90)" fill="#1a1a1a" stroke="#1a1a1a" stroke-width="0.35">Probability of overall survival (%)</text>
<text x="168.30" y="434.60" font-size="8.2" text-anchor="middle" textLength="61.20" lengthAdjust="spacingAndGlyphs" fill="#222" stroke="#222" stroke-width="0.3">Overall survival (months)</text>
<polyline points="79.6,305.5 79.6,310.8 80.7,317.6 83.4,323.0 86.8,327.1 88.8,331.1 91.5,334.5 94.2,339.3 97.0,343.3 99.0,348.1 101.7,352.1 104.4,355.5 107.1,358.9 110.5,360.2 113.2,363.6 115.9,367.0 120.0,369.0 125.4,369.7 130.8,369.7 133.5,370.7 140.3,370.7 148.0,371.8 155.8,372.4 165.0,373.0 176.1,373.4 177.2,374.1 189.5,374.5 190.6,375.6 230.7,375.6 230.7,383.2 253.0,383.2" fill="none" stroke="#2a5588" stroke-width="1.1" stroke-linejoin="round" style="mix-blend-mode:multiply"/>
<polyline points="79.6,305.5 79.6,314.9 81.4,320.3 84.8,324.4 87.5,328.4 88.8,333.2 90.9,337.2 93.6,341.3 95.6,346.0 97.6,350.8 100.3,356.9 103.0,359.6 106.4,363.0 109.8,365.0 111.8,369.0 115.2,370.4 118.6,371.8 122.7,373.1 126.1,374.2 128.8,376.5 133.5,377.4 136.2,379.9 138.9,381.2 148.0,381.9 151.9,383.1 155.8,383.8 159.6,384.4 162.5,385.2 165.4,385.6 173.9,385.9 177.2,388.1 182.8,390.3 206.2,390.8 207.3,392.3 222.9,392.3 223.4,394.3 254.1,394.3 254.1,403.0 258.1,403.0" fill="none" stroke="#c41a42" stroke-width="1.1" stroke-linejoin="round" style="mix-blend-mode:multiply"/>
<line x1="79.60" y1="302.80" x2="79.60" y2="412.30" stroke="#1a1a1a" stroke-width="1.1"/>
<line x1="200.60" y1="314.60" x2="210.10" y2="314.60" stroke="#2a5588" stroke-width="1.1"/>
<line x1="200.60" y1="324.10" x2="210.10" y2="324.10" stroke="#c41a42" stroke-width="1.1"/>
<text x="212.90" y="316.70" font-size="5.9" textLength="36.40" lengthAdjust="spacingAndGlyphs" fill="#333">below median</text>
<text x="212.90" y="326.20" font-size="5.9" textLength="36.40" lengthAdjust="spacingAndGlyphs" fill="#333">above median</text>
<text x="220.7" y="336.2" font-size="5.9" fill="#333"><tspan font-style="italic">P</tspan> = .041</text>
<text x="275.00" y="277.00" font-size="11" font-weight="bold" fill="#000" stroke="#000" stroke-width="0.35">D</text>
<text x="396.60" y="287.90" font-size="9.7" text-anchor="middle" textLength="75.30" lengthAdjust="spacingAndGlyphs" fill="#1e1e1e" stroke="#1e1e1e" stroke-width="0.12">TCGA AML Cohort</text>
<text x="396.80" y="297.30" font-size="8.6" text-anchor="middle" textLength="102.80" lengthAdjust="spacingAndGlyphs" fill="#1e1e1e" stroke="#1e1e1e" stroke-width="0.12"><tspan font-style="italic">HERC1</tspan> expression (n = 172)</text>
<line x1="313.90" y1="302.50" x2="313.90" y2="412.20" stroke="#1a1a1a" stroke-width="1.1"/>
<line x1="311.70" y1="411.70" x2="313.90" y2="411.70" stroke="#1a1a1a" stroke-width="0.8"/>
<text x="307.60" y="413.65" font-size="5.4" text-anchor="end" textLength="3.17" lengthAdjust="spacingAndGlyphs" fill="#2a2a2a" stroke="#2a2a2a" stroke-width="0.1">0</text>
<line x1="311.70" y1="401.03" x2="313.90" y2="401.03" stroke="#1a1a1a" stroke-width="0.8"/>
<line x1="311.70" y1="390.36" x2="313.90" y2="390.36" stroke="#1a1a1a" stroke-width="0.8"/>
<text x="307.60" y="392.31" font-size="5.4" text-anchor="end" textLength="6.34" lengthAdjust="spacingAndGlyphs" fill="#2a2a2a" stroke="#2a2a2a" stroke-width="0.1">20</text>
<line x1="311.70" y1="379.69" x2="313.90" y2="379.69" stroke="#1a1a1a" stroke-width="0.8"/>
<line x1="311.70" y1="369.02" x2="313.90" y2="369.02" stroke="#1a1a1a" stroke-width="0.8"/>
<text x="307.60" y="370.97" font-size="5.4" text-anchor="end" textLength="6.34" lengthAdjust="spacingAndGlyphs" fill="#2a2a2a" stroke="#2a2a2a" stroke-width="0.1">40</text>
<line x1="311.70" y1="358.35" x2="313.90" y2="358.35" stroke="#1a1a1a" stroke-width="0.8"/>
<line x1="311.70" y1="347.68" x2="313.90" y2="347.68" stroke="#1a1a1a" stroke-width="0.8"/>
<text x="307.60" y="349.63" font-size="5.4" text-anchor="end" textLength="6.34" lengthAdjust="spacingAndGlyphs" fill="#2a2a2a" stroke="#2a2a2a" stroke-width="0.1">60</text>
<line x1="311.70" y1="337.01" x2="313.90" y2="337.01" stroke="#1a1a1a" stroke-width="0.8"/>
<line x1="311.70" y1="326.34" x2="313.90" y2="326.34" stroke="#1a1a1a" stroke-width="0.8"/>
<text x="307.60" y="328.29" font-size="5.4" text-anchor="end" textLength="6.34" lengthAdjust="spacingAndGlyphs" fill="#2a2a2a" stroke="#2a2a2a" stroke-width="0.1">80</text>
<line x1="311.70" y1="315.67" x2="313.90" y2="315.67" stroke="#1a1a1a" stroke-width="0.8"/>
<line x1="311.70" y1="305.00" x2="313.90" y2="305.00" stroke="#1a1a1a" stroke-width="0.8"/>
<text x="307.60" y="306.95" font-size="5.4" text-anchor="end" textLength="9.51" lengthAdjust="spacingAndGlyphs" fill="#2a2a2a" stroke="#2a2a2a" stroke-width="0.1">100</text>
<line x1="313.90" y1="411.70" x2="478.80" y2="411.70" stroke="#1a1a1a" stroke-width="1.1"/>
<line x1="313.90" y1="411.70" x2="313.90" y2="413.90" stroke="#1a1a1a" stroke-width="0.8"/>
<line x1="341.86" y1="411.70" x2="341.86" y2="413.90" stroke="#1a1a1a" stroke-width="0.8"/>
<line x1="369.82" y1="411.70" x2="369.82" y2="413.90" stroke="#1a1a1a" stroke-width="0.8"/>
<line x1="397.78" y1="411.70" x2="397.78" y2="413.90" stroke="#1a1a1a" stroke-width="0.8"/>
<line x1="425.74" y1="411.70" x2="425.74" y2="413.90" stroke="#1a1a1a" stroke-width="0.8"/>
<line x1="453.70" y1="411.70" x2="453.70" y2="413.90" stroke="#1a1a1a" stroke-width="0.8"/>
<text x="313.90" y="422.60" font-size="5.4" text-anchor="middle" textLength="3.28" lengthAdjust="spacingAndGlyphs" fill="#2a2a2a" stroke="#2a2a2a" stroke-width="0.1">0</text>
<text x="341.86" y="422.60" font-size="5.4" text-anchor="middle" textLength="9.84" lengthAdjust="spacingAndGlyphs" fill="#2a2a2a" stroke="#2a2a2a" stroke-width="0.1">500</text>
<text x="369.82" y="422.60" font-size="5.4" text-anchor="middle" textLength="13.12" lengthAdjust="spacingAndGlyphs" fill="#2a2a2a" stroke="#2a2a2a" stroke-width="0.1">1000</text>
<text x="397.78" y="422.60" font-size="5.4" text-anchor="middle" textLength="13.12" lengthAdjust="spacingAndGlyphs" fill="#2a2a2a" stroke="#2a2a2a" stroke-width="0.1">1500</text>
<text x="425.74" y="422.60" font-size="5.4" text-anchor="middle" textLength="13.12" lengthAdjust="spacingAndGlyphs" fill="#2a2a2a" stroke="#2a2a2a" stroke-width="0.1">2000</text>
<text x="453.70" y="422.60" font-size="5.4" text-anchor="middle" textLength="13.12" lengthAdjust="spacingAndGlyphs" fill="#2a2a2a" stroke="#2a2a2a" stroke-width="0.1">2500</text>
<text x="0" y="0" font-size="7.2" text-anchor="middle" textLength="82.3" lengthAdjust="spacingAndGlyphs" transform="translate(292.9 358.6) rotate(-90)" fill="#1a1a1a" stroke="#1a1a1a" stroke-width="0.35">Probability of overall survival (%)</text>
<text x="383.50" y="434.50" font-size="8.2" text-anchor="middle" textLength="54.60" lengthAdjust="spacingAndGlyphs" fill="#222" stroke="#222" stroke-width="0.3">Overall survival (days)</text>
<polyline points="313.9,304.5 314.4,304.5 314.4,306.4 315.5,306.4 315.5,312.7 316.8,312.7 316.8,312.7 316.8,312.7 316.8,319.1 320.0,319.1 320.0,320.7 322.4,320.7 322.4,323.1 324.7,323.1 324.7,325.5 326.0,325.5 326.0,328.0 327.1,328.0 327.1,330.3 327.9,330.3 327.9,336.7 329.0,336.7 329.0,338.5 330.3,338.5 330.3,340.6 332.7,340.6 332.7,343.8 335.9,343.8 335.9,346.2 339.1,346.2 339.1,347.8 340.7,347.8 340.7,351.8 343.1,351.8 343.1,354.2 346.3,354.2 346.3,356.6 350.2,356.6 350.2,358.6 354.2,358.6 354.2,359.0 355.8,359.0 355.8,361.4 359.0,361.4 359.0,363.7 361.4,363.7 361.4,365.3 367.0,365.3 367.0,366.1 369.4,366.1 369.4,369.6 392.2,369.6 392.2,369.6 392.7,369.6 392.7,374.2 394.0,374.2 394.0,377.6 405.6,377.6 405.6,377.6 406.1,377.6 406.1,382.7 473.0,382.7 473.0,382.7" fill="none" stroke="#3f6689" stroke-width="1.1" stroke-linejoin="round" style="mix-blend-mode:multiply"/>
<polyline points="313.9,304.5 314.4,304.5 314.4,315.9 315.5,315.9 315.5,322.3 316.8,322.3 316.8,328.7 319.2,328.7 319.2,331.9 321.6,331.9 321.6,334.3 324.0,334.3 324.0,338.2 325.5,338.2 325.5,342.2 327.1,342.2 327.1,346.2 328.7,346.2 328.7,349.4 331.1,349.4 331.1,352.6 332.7,352.6 332.7,359.0 334.3,359.0 334.3,363.7 335.9,363.7 335.9,372.5 339.1,372.5 339.1,374.1 341.5,374.1 341.5,376.5 344.7,376.5 344.7,379.7 347.1,379.7 347.1,382.9 348.7,382.9 348.7,386.9 352.6,386.9 352.6,388.4 358.2,388.4 358.2,389.2 360.6,389.2 360.6,392.4 363.0,392.4 363.0,394.8 366.2,394.8 366.2,397.2 431.3,397.2 431.3,397.2" fill="none" stroke="#c22a48" stroke-width="1.1" stroke-linejoin="round" style="mix-blend-mode:multiply"/>
<line x1="313.90" y1="302.50" x2="313.90" y2="412.20" stroke="#1a1a1a" stroke-width="1.1"/>
<line x1="422.40" y1="314.60" x2="431.90" y2="314.60" stroke="#3f6689" stroke-width="1.1"/>
<line x1="422.40" y1="324.10" x2="431.90" y2="324.10" stroke="#c22a48" stroke-width="1.1"/>
<text x="434.00" y="316.70" font-size="5.9" textLength="36.40" lengthAdjust="spacingAndGlyphs" fill="#333">below median</text>
<text x="434.00" y="326.20" font-size="5.9" textLength="36.40" lengthAdjust="spacingAndGlyphs" fill="#333">above median</text>
<text x="441.8" y="335.8" font-size="5.9" fill="#333"><tspan font-style="italic">P</tspan> &lt; .001</text>
<text x="40.60" y="461.00" font-size="11" font-weight="bold" fill="#000" stroke="#000" stroke-width="0.35">E</text>
<text x="170.45" y="471.50" font-size="9.7" text-anchor="middle" textLength="73.50" lengthAdjust="spacingAndGlyphs" fill="#1e1e1e" stroke="#1e1e1e" stroke-width="0.12">BEAT AML Cohort</text>
<text x="169.60" y="481.20" font-size="8.6" text-anchor="middle" textLength="92.00" lengthAdjust="spacingAndGlyphs" fill="#1e1e1e" stroke="#1e1e1e" stroke-width="0.12"><tspan font-style="italic">DCK</tspan> expression (n = 556)</text>
<line x1="79.70" y1="486.20" x2="79.70" y2="597.20" stroke="#1a1a1a" stroke-width="1.1"/>
<line x1="77.50" y1="596.70" x2="79.70" y2="596.70" stroke="#1a1a1a" stroke-width="0.8"/>
<text x="73.40" y="598.65" font-size="5.4" text-anchor="end" textLength="3.17" lengthAdjust="spacingAndGlyphs" fill="#2a2a2a" stroke="#2a2a2a" stroke-width="0.1">0</text>
<line x1="77.50" y1="586.08" x2="79.70" y2="586.08" stroke="#1a1a1a" stroke-width="0.8"/>
<line x1="77.50" y1="575.46" x2="79.70" y2="575.46" stroke="#1a1a1a" stroke-width="0.8"/>
<text x="73.40" y="577.41" font-size="5.4" text-anchor="end" textLength="6.34" lengthAdjust="spacingAndGlyphs" fill="#2a2a2a" stroke="#2a2a2a" stroke-width="0.1">20</text>
<line x1="77.50" y1="564.84" x2="79.70" y2="564.84" stroke="#1a1a1a" stroke-width="0.8"/>
<line x1="77.50" y1="554.22" x2="79.70" y2="554.22" stroke="#1a1a1a" stroke-width="0.8"/>
<text x="73.40" y="556.17" font-size="5.4" text-anchor="end" textLength="6.34" lengthAdjust="spacingAndGlyphs" fill="#2a2a2a" stroke="#2a2a2a" stroke-width="0.1">40</text>
<line x1="77.50" y1="543.60" x2="79.70" y2="543.60" stroke="#1a1a1a" stroke-width="0.8"/>
<line x1="77.50" y1="532.98" x2="79.70" y2="532.98" stroke="#1a1a1a" stroke-width="0.8"/>
<text x="73.40" y="534.93" font-size="5.4" text-anchor="end" textLength="6.34" lengthAdjust="spacingAndGlyphs" fill="#2a2a2a" stroke="#2a2a2a" stroke-width="0.1">60</text>
<line x1="77.50" y1="522.36" x2="79.70" y2="522.36" stroke="#1a1a1a" stroke-width="0.8"/>
<line x1="77.50" y1="511.74" x2="79.70" y2="511.74" stroke="#1a1a1a" stroke-width="0.8"/>
<text x="73.40" y="513.69" font-size="5.4" text-anchor="end" textLength="6.34" lengthAdjust="spacingAndGlyphs" fill="#2a2a2a" stroke="#2a2a2a" stroke-width="0.1">80</text>
<line x1="77.50" y1="501.12" x2="79.70" y2="501.12" stroke="#1a1a1a" stroke-width="0.8"/>
<line x1="77.50" y1="490.50" x2="79.70" y2="490.50" stroke="#1a1a1a" stroke-width="0.8"/>
<text x="73.40" y="492.45" font-size="5.4" text-anchor="end" textLength="9.51" lengthAdjust="spacingAndGlyphs" fill="#2a2a2a" stroke="#2a2a2a" stroke-width="0.1">100</text>
<line x1="79.70" y1="596.70" x2="259.30" y2="596.70" stroke="#1a1a1a" stroke-width="1.1"/>
<line x1="79.70" y1="596.70" x2="79.70" y2="598.90" stroke="#1a1a1a" stroke-width="0.8"/>
<line x1="88.45" y1="596.70" x2="88.45" y2="598.90" stroke="#1a1a1a" stroke-width="0.8"/>
<line x1="97.19" y1="596.70" x2="97.19" y2="598.90" stroke="#1a1a1a" stroke-width="0.8"/>
<line x1="105.94" y1="596.70" x2="105.94" y2="598.90" stroke="#1a1a1a" stroke-width="0.8"/>
<line x1="114.68" y1="596.70" x2="114.68" y2="598.90" stroke="#1a1a1a" stroke-width="0.8"/>
<line x1="123.43" y1="596.70" x2="123.43" y2="598.90" stroke="#1a1a1a" stroke-width="0.8"/>
<line x1="132.17" y1="596.70" x2="132.17" y2="598.90" stroke="#1a1a1a" stroke-width="0.8"/>
<line x1="140.92" y1="596.70" x2="140.92" y2="598.90" stroke="#1a1a1a" stroke-width="0.8"/>
<line x1="149.66" y1="596.70" x2="149.66" y2="598.90" stroke="#1a1a1a" stroke-width="0.8"/>
<line x1="158.41" y1="596.70" x2="158.41" y2="598.90" stroke="#1a1a1a" stroke-width="0.8"/>
<line x1="167.15" y1="596.70" x2="167.15" y2="598.90" stroke="#1a1a1a" stroke-width="0.8"/>
<line x1="175.90" y1="596.70" x2="175.90" y2="598.90" stroke="#1a1a1a" stroke-width="0.8"/>
<line x1="184.64" y1="596.70" x2="184.64" y2="598.90" stroke="#1a1a1a" stroke-width="0.8"/>
<line x1="193.38" y1="596.70" x2="193.38" y2="598.90" stroke="#1a1a1a" stroke-width="0.8"/>
<line x1="202.13" y1="596.70" x2="202.13" y2="598.90" stroke="#1a1a1a" stroke-width="0.8"/>
<line x1="210.88" y1="596.70" x2="210.88" y2="598.90" stroke="#1a1a1a" stroke-width="0.8"/>
<line x1="219.62" y1="596.70" x2="219.62" y2="598.90" stroke="#1a1a1a" stroke-width="0.8"/>
<line x1="228.37" y1="596.70" x2="228.37" y2="598.90" stroke="#1a1a1a" stroke-width="0.8"/>
<line x1="237.11" y1="596.70" x2="237.11" y2="598.90" stroke="#1a1a1a" stroke-width="0.8"/>
<line x1="245.86" y1="596.70" x2="245.86" y2="598.90" stroke="#1a1a1a" stroke-width="0.8"/>
<line x1="254.60" y1="596.70" x2="254.60" y2="598.90" stroke="#1a1a1a" stroke-width="0.8"/>
<text x="79.70" y="607.60" font-size="5.4" text-anchor="middle" textLength="3.28" lengthAdjust="spacingAndGlyphs" fill="#2a2a2a" stroke="#2a2a2a" stroke-width="0.1">0</text>
<text x="97.19" y="607.60" font-size="5.4" text-anchor="middle" textLength="6.56" lengthAdjust="spacingAndGlyphs" fill="#2a2a2a" stroke="#2a2a2a" stroke-width="0.1">10</text>
<text x="114.68" y="607.60" font-size="5.4" text-anchor="middle" textLength="6.56" lengthAdjust="spacingAndGlyphs" fill="#2a2a2a" stroke="#2a2a2a" stroke-width="0.1">20</text>
<text x="132.17" y="607.60" font-size="5.4" text-anchor="middle" textLength="6.56" lengthAdjust="spacingAndGlyphs" fill="#2a2a2a" stroke="#2a2a2a" stroke-width="0.1">30</text>
<text x="149.66" y="607.60" font-size="5.4" text-anchor="middle" textLength="6.56" lengthAdjust="spacingAndGlyphs" fill="#2a2a2a" stroke="#2a2a2a" stroke-width="0.1">40</text>
<text x="167.15" y="607.60" font-size="5.4" text-anchor="middle" textLength="6.56" lengthAdjust="spacingAndGlyphs" fill="#2a2a2a" stroke="#2a2a2a" stroke-width="0.1">50</text>
<text x="184.64" y="607.60" font-size="5.4" text-anchor="middle" textLength="6.56" lengthAdjust="spacingAndGlyphs" fill="#2a2a2a" stroke="#2a2a2a" stroke-width="0.1">60</text>
<text x="202.13" y="607.60" font-size="5.4" text-anchor="middle" textLength="6.56" lengthAdjust="spacingAndGlyphs" fill="#2a2a2a" stroke="#2a2a2a" stroke-width="0.1">70</text>
<text x="219.62" y="607.60" font-size="5.4" text-anchor="middle" textLength="6.56" lengthAdjust="spacingAndGlyphs" fill="#2a2a2a" stroke="#2a2a2a" stroke-width="0.1">80</text>
<text x="237.11" y="607.60" font-size="5.4" text-anchor="middle" textLength="6.56" lengthAdjust="spacingAndGlyphs" fill="#2a2a2a" stroke="#2a2a2a" stroke-width="0.1">90</text>
<text x="254.60" y="607.60" font-size="5.4" text-anchor="middle" textLength="9.84" lengthAdjust="spacingAndGlyphs" fill="#2a2a2a" stroke="#2a2a2a" stroke-width="0.1">100</text>
<text x="0" y="0" font-size="7.2" text-anchor="middle" textLength="83" lengthAdjust="spacingAndGlyphs" transform="translate(57.7 541.6) rotate(-90)" fill="#1a1a1a" stroke="#1a1a1a" stroke-width="0.35">Probability of overall survival (%)</text>
<text x="169.70" y="619.50" font-size="8.2" text-anchor="middle" textLength="61.60" lengthAdjust="spacingAndGlyphs" fill="#222" stroke="#222" stroke-width="0.3">Overall survival (months)</text>
<polyline points="79.8,492.5 80.0,495.2 81.4,499.9 83.4,504.6 87.5,509.4 90.2,514.1 92.9,518.8 95.6,524.3 97.6,528.3 100.3,533.1 103.0,535.8 105.1,539.8 107.1,542.5 110.5,543.2 113.2,546.6 115.9,549.3 118.6,550.7 120.0,552.3 123.1,554.6 127.7,555.4 133.1,556.2 135.4,557.7 137.7,559.2 145.4,561.5 147.7,563.1 150.8,564.3 158.5,564.3 163.1,563.8 173.8,564.3 177.7,564.6 178.5,565.8 190.8,565.8 191.5,567.4 232.2,567.4 232.7,575.5 259.3,575.5" fill="none" stroke="#2a5588" stroke-width="1.1" stroke-linejoin="round" style="mix-blend-mode:multiply"/>
<polyline points="79.8,494.0 80.0,502.6 81.4,506.7 84.1,510.7 86.1,514.1 88.2,518.8 90.2,522.9 92.9,526.3 95.6,530.4 97.6,533.1 99.7,537.8 102.4,541.9 105.1,545.3 108.5,548.0 111.2,548.6 114.6,552.7 117.3,554.2 120.0,554.6 127.7,555.4 129.2,558.2 135.4,559.2 137.7,560.0 146.2,560.3 158.5,561.5 166.2,563.1 173.8,564.3 178.5,565.4 184.6,567.4 200.0,567.7 207.5,568.4 208.2,570.0 224.0,570.0 224.7,573.6 255.8,573.6 255.8,596.7" fill="none" stroke="#c41a42" stroke-width="1.1" stroke-linejoin="round" style="mix-blend-mode:multiply"/>
<line x1="79.70" y1="486.20" x2="79.70" y2="597.20" stroke="#1a1a1a" stroke-width="1.1"/>
<line x1="202.80" y1="497.70" x2="212.30" y2="497.70" stroke="#2a5588" stroke-width="1.1"/>
<line x1="202.80" y1="507.20" x2="212.30" y2="507.20" stroke="#c41a42" stroke-width="1.1"/>
<text x="214.50" y="499.80" font-size="5.9" textLength="36.40" lengthAdjust="spacingAndGlyphs" fill="#333">below median</text>
<text x="214.50" y="509.30" font-size="5.9" textLength="36.40" lengthAdjust="spacingAndGlyphs" fill="#333">above median</text>
<text x="222.8" y="519.9" font-size="5.9" fill="#333"><tspan font-style="italic">P</tspan> = .302</text>
<text x="276.00" y="459.80" font-size="11" font-weight="bold" fill="#000" stroke="#000" stroke-width="0.35">F</text>
<text x="396.90" y="471.80" font-size="9.7" text-anchor="middle" textLength="75.50" lengthAdjust="spacingAndGlyphs" fill="#1e1e1e" stroke="#1e1e1e" stroke-width="0.12">TCGA AML Cohort</text>
<text x="396.60" y="481.60" font-size="8.6" text-anchor="middle" textLength="92.00" lengthAdjust="spacingAndGlyphs" fill="#1e1e1e" stroke="#1e1e1e" stroke-width="0.12"><tspan font-style="italic">DCK</tspan> Expression (n = 172)</text>
<line x1="314.10" y1="487.20" x2="314.10" y2="597.40" stroke="#1a1a1a" stroke-width="1.1"/>
<line x1="311.90" y1="596.90" x2="314.10" y2="596.90" stroke="#1a1a1a" stroke-width="0.8"/>
<text x="307.80" y="598.85" font-size="5.4" text-anchor="end" textLength="3.17" lengthAdjust="spacingAndGlyphs" fill="#2a2a2a" stroke="#2a2a2a" stroke-width="0.1">0</text>
<line x1="311.90" y1="586.19" x2="314.10" y2="586.19" stroke="#1a1a1a" stroke-width="0.8"/>
<line x1="311.90" y1="575.48" x2="314.10" y2="575.48" stroke="#1a1a1a" stroke-width="0.8"/>
<text x="307.80" y="577.43" font-size="5.4" text-anchor="end" textLength="6.34" lengthAdjust="spacingAndGlyphs" fill="#2a2a2a" stroke="#2a2a2a" stroke-width="0.1">20</text>
<line x1="311.90" y1="564.77" x2="314.10" y2="564.77" stroke="#1a1a1a" stroke-width="0.8"/>
<line x1="311.90" y1="554.06" x2="314.10" y2="554.06" stroke="#1a1a1a" stroke-width="0.8"/>
<text x="307.80" y="556.01" font-size="5.4" text-anchor="end" textLength="6.34" lengthAdjust="spacingAndGlyphs" fill="#2a2a2a" stroke="#2a2a2a" stroke-width="0.1">40</text>
<line x1="311.90" y1="543.35" x2="314.10" y2="543.35" stroke="#1a1a1a" stroke-width="0.8"/>
<line x1="311.90" y1="532.64" x2="314.10" y2="532.64" stroke="#1a1a1a" stroke-width="0.8"/>
<text x="307.80" y="534.59" font-size="5.4" text-anchor="end" textLength="6.34" lengthAdjust="spacingAndGlyphs" fill="#2a2a2a" stroke="#2a2a2a" stroke-width="0.1">60</text>
<line x1="311.90" y1="521.93" x2="314.10" y2="521.93" stroke="#1a1a1a" stroke-width="0.8"/>
<line x1="311.90" y1="511.22" x2="314.10" y2="511.22" stroke="#1a1a1a" stroke-width="0.8"/>
<text x="307.80" y="513.17" font-size="5.4" text-anchor="end" textLength="6.34" lengthAdjust="spacingAndGlyphs" fill="#2a2a2a" stroke="#2a2a2a" stroke-width="0.1">80</text>
<line x1="311.90" y1="500.51" x2="314.10" y2="500.51" stroke="#1a1a1a" stroke-width="0.8"/>
<line x1="311.90" y1="489.80" x2="314.10" y2="489.80" stroke="#1a1a1a" stroke-width="0.8"/>
<text x="307.80" y="491.75" font-size="5.4" text-anchor="end" textLength="9.51" lengthAdjust="spacingAndGlyphs" fill="#2a2a2a" stroke="#2a2a2a" stroke-width="0.1">100</text>
<line x1="314.10" y1="596.90" x2="479.30" y2="596.90" stroke="#1a1a1a" stroke-width="1.1"/>
<line x1="314.10" y1="596.90" x2="314.10" y2="599.10" stroke="#1a1a1a" stroke-width="0.8"/>
<line x1="341.98" y1="596.90" x2="341.98" y2="599.10" stroke="#1a1a1a" stroke-width="0.8"/>
<line x1="369.86" y1="596.90" x2="369.86" y2="599.10" stroke="#1a1a1a" stroke-width="0.8"/>
<line x1="397.74" y1="596.90" x2="397.74" y2="599.10" stroke="#1a1a1a" stroke-width="0.8"/>
<line x1="425.62" y1="596.90" x2="425.62" y2="599.10" stroke="#1a1a1a" stroke-width="0.8"/>
<line x1="453.50" y1="596.90" x2="453.50" y2="599.10" stroke="#1a1a1a" stroke-width="0.8"/>
<text x="314.10" y="607.80" font-size="5.4" text-anchor="middle" textLength="3.28" lengthAdjust="spacingAndGlyphs" fill="#2a2a2a" stroke="#2a2a2a" stroke-width="0.1">0</text>
<text x="341.98" y="607.80" font-size="5.4" text-anchor="middle" textLength="9.84" lengthAdjust="spacingAndGlyphs" fill="#2a2a2a" stroke="#2a2a2a" stroke-width="0.1">500</text>
<text x="369.86" y="607.80" font-size="5.4" text-anchor="middle" textLength="13.12" lengthAdjust="spacingAndGlyphs" fill="#2a2a2a" stroke="#2a2a2a" stroke-width="0.1">1000</text>
<text x="397.74" y="607.80" font-size="5.4" text-anchor="middle" textLength="13.12" lengthAdjust="spacingAndGlyphs" fill="#2a2a2a" stroke="#2a2a2a" stroke-width="0.1">1500</text>
<text x="425.62" y="607.80" font-size="5.4" text-anchor="middle" textLength="13.12" lengthAdjust="spacingAndGlyphs" fill="#2a2a2a" stroke="#2a2a2a" stroke-width="0.1">2000</text>
<text x="453.50" y="607.80" font-size="5.4" text-anchor="middle" textLength="13.12" lengthAdjust="spacingAndGlyphs" fill="#2a2a2a" stroke="#2a2a2a" stroke-width="0.1">2500</text>
<text x="0" y="0" font-size="7.2" text-anchor="middle" textLength="83.7" lengthAdjust="spacingAndGlyphs" transform="translate(292.9 541.8) rotate(-90)" fill="#1a1a1a" stroke="#1a1a1a" stroke-width="0.35">Probability of overall survival (%)</text>
<text x="396.50" y="619.70" font-size="8.2" text-anchor="middle" textLength="54.60" lengthAdjust="spacingAndGlyphs" fill="#222" stroke="#222" stroke-width="0.3">Overall survival (days)</text>
<polyline points="314.2,499.7 316.0,499.7 316.0,499.7 316.0,499.7 316.0,507.9 318.0,507.9 318.0,508.3 320.0,508.3 320.0,509.5 323.1,509.5 323.1,510.8 324.6,510.8 324.6,515.4 326.2,515.4 326.2,519.2 327.7,519.2 327.7,524.6 330.8,524.6 330.8,527.7 334.6,527.7 334.6,531.5 335.4,531.5 335.4,537.7 340.0,537.7 340.0,538.5 342.3,538.5 342.3,543.8 346.9,543.8 346.9,544.6 348.5,544.6 348.5,549.2 356.2,549.2 356.2,550.0 359.2,550.0 359.2,554.6 365.4,554.6 365.4,555.4 368.5,555.4 368.5,560.0 394.6,560.0 394.6,560.3 394.9,560.3 394.9,563.1 408.6,563.1 408.6,563.1 408.6,563.1 408.6,571.2 478.8,571.2 478.8,571.2" fill="none" stroke="#3a7489" stroke-width="1.1" stroke-linejoin="round" style="mix-blend-mode:multiply"/>
<polyline points="314.2,499.7 316.0,499.7 316.0,499.7 316.0,499.7 316.0,507.9 318.0,507.9 318.0,510.0 320.0,510.0 320.0,513.1 323.1,513.1 323.1,516.9 326.2,516.9 326.2,523.1 328.5,523.1 328.5,528.5 330.0,528.5 330.0,530.8 331.5,530.8 331.5,540.0 333.8,540.0 333.8,541.5 336.2,541.5 336.2,546.2 339.2,546.2 339.2,547.7 341.5,547.7 341.5,552.3 344.6,552.3 344.6,556.2 348.5,556.2 348.5,561.5 350.8,561.5 350.8,563.1 356.9,563.1 356.9,564.6 360.0,564.6 360.0,565.4 363.1,565.4 363.1,570.0 369.2,570.0 369.2,571.5 394.6,571.5 394.6,571.5 395.6,571.5 395.6,574.3 396.3,574.3 396.3,577.6 457.6,577.6 457.6,577.6" fill="none" stroke="#c03a58" stroke-width="1.1" stroke-linejoin="round" style="mix-blend-mode:multiply"/>
<line x1="314.10" y1="487.20" x2="314.10" y2="597.40" stroke="#1a1a1a" stroke-width="1.1"/>
<line x1="422.70" y1="498.60" x2="432.20" y2="498.60" stroke="#3a7489" stroke-width="1.1"/>
<line x1="422.70" y1="508.80" x2="432.20" y2="508.80" stroke="#c03a58" stroke-width="1.1"/>
<text x="434.50" y="500.70" font-size="5.9" textLength="36.40" lengthAdjust="spacingAndGlyphs" fill="#333">below median</text>
<text x="434.50" y="510.20" font-size="5.9" textLength="36.40" lengthAdjust="spacingAndGlyphs" fill="#333">above median</text>
<text x="442.8" y="519.9" font-size="5.9" fill="#333"><tspan font-style="italic">P</tspan> = .114</text>
<rect x="0.5" y="0.5" width="519" height="627" fill="none" stroke="#5a5a5a" stroke-width="1"/>
</svg>
</body></html>
